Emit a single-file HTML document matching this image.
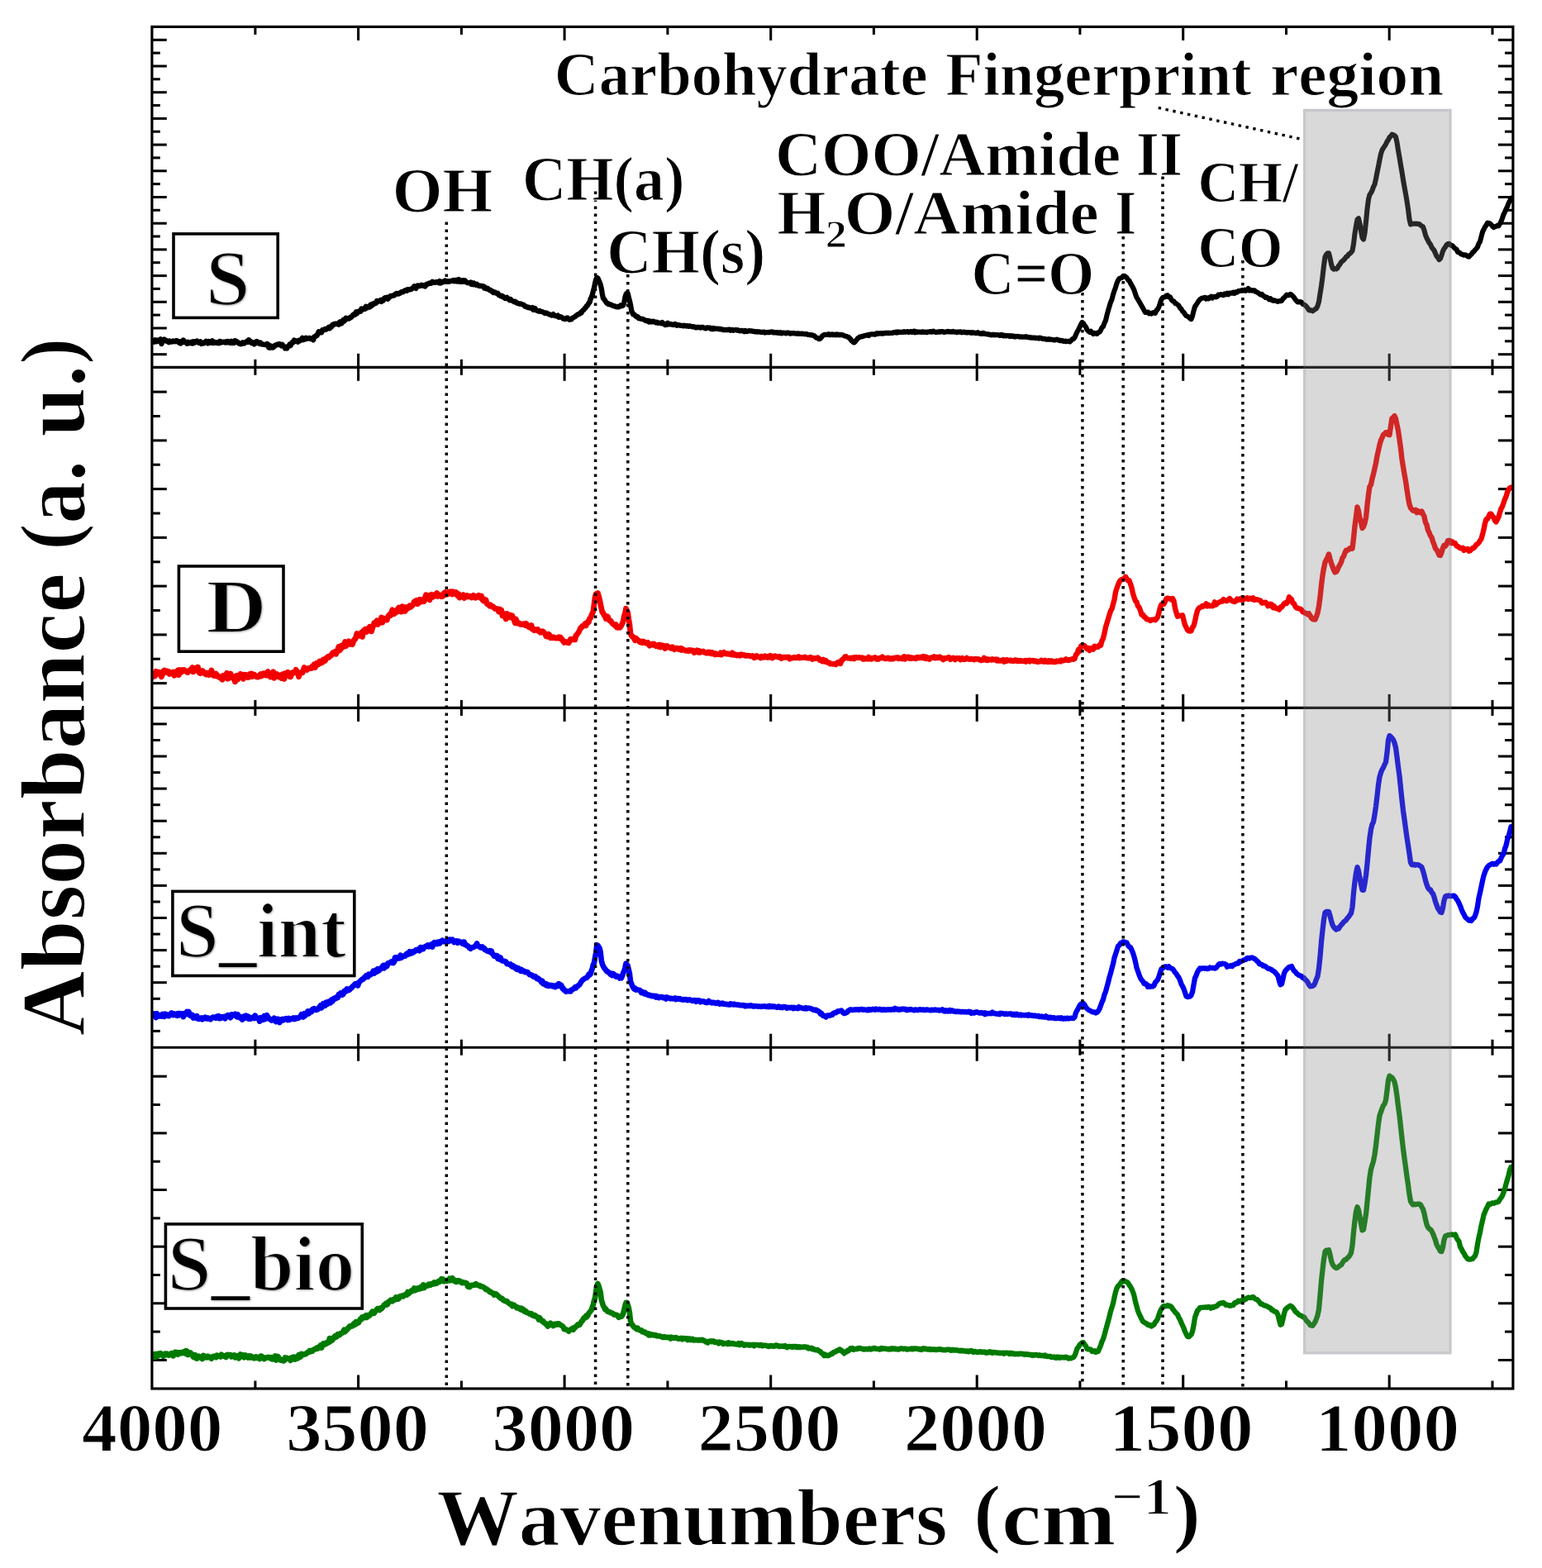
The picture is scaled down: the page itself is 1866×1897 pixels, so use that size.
<!DOCTYPE html>
<html lang="en"><head><meta charset="utf-8"><title>FTIR spectra</title>
<style>html,body{margin:0;padding:0;background:#fff}body{width:1866px;height:1897px;overflow:hidden}svg{display:block}</style>
</head><body>
<svg width="1866" height="1897" viewBox="0 0 1866 1897" role="img" aria-label="FTIR absorbance spectra">
<rect x="0" y="0" width="1866" height="1897" fill="#fff"/>
<g stroke="#000" stroke-width="3.05" fill="none">
<line x1="308.9" y1="32.4" x2="308.9" y2="41.9"/>
<line x1="308.9" y1="434.8" x2="308.9" y2="453.8"/>
<line x1="308.9" y1="846.9" x2="308.9" y2="865.9"/>
<line x1="308.9" y1="1257.7" x2="308.9" y2="1276.7"/>
<line x1="308.9" y1="1670.5" x2="308.9" y2="1680.0"/>
<line x1="433.6" y1="32.4" x2="433.6" y2="48.9"/>
<line x1="433.6" y1="427.8" x2="433.6" y2="460.8"/>
<line x1="433.6" y1="839.9" x2="433.6" y2="872.9"/>
<line x1="433.6" y1="1250.7" x2="433.6" y2="1283.7"/>
<line x1="433.6" y1="1663.5" x2="433.6" y2="1680.0"/>
<line x1="558.4" y1="32.4" x2="558.4" y2="41.9"/>
<line x1="558.4" y1="434.8" x2="558.4" y2="453.8"/>
<line x1="558.4" y1="846.9" x2="558.4" y2="865.9"/>
<line x1="558.4" y1="1257.7" x2="558.4" y2="1276.7"/>
<line x1="558.4" y1="1670.5" x2="558.4" y2="1680.0"/>
<line x1="683.1" y1="32.4" x2="683.1" y2="48.9"/>
<line x1="683.1" y1="427.8" x2="683.1" y2="460.8"/>
<line x1="683.1" y1="839.9" x2="683.1" y2="872.9"/>
<line x1="683.1" y1="1250.7" x2="683.1" y2="1283.7"/>
<line x1="683.1" y1="1663.5" x2="683.1" y2="1680.0"/>
<line x1="807.9" y1="32.4" x2="807.9" y2="41.9"/>
<line x1="807.9" y1="434.8" x2="807.9" y2="453.8"/>
<line x1="807.9" y1="846.9" x2="807.9" y2="865.9"/>
<line x1="807.9" y1="1257.7" x2="807.9" y2="1276.7"/>
<line x1="807.9" y1="1670.5" x2="807.9" y2="1680.0"/>
<line x1="932.7" y1="32.4" x2="932.7" y2="48.9"/>
<line x1="932.7" y1="427.8" x2="932.7" y2="460.8"/>
<line x1="932.7" y1="839.9" x2="932.7" y2="872.9"/>
<line x1="932.7" y1="1250.7" x2="932.7" y2="1283.7"/>
<line x1="932.7" y1="1663.5" x2="932.7" y2="1680.0"/>
<line x1="1057.4" y1="32.4" x2="1057.4" y2="41.9"/>
<line x1="1057.4" y1="434.8" x2="1057.4" y2="453.8"/>
<line x1="1057.4" y1="846.9" x2="1057.4" y2="865.9"/>
<line x1="1057.4" y1="1257.7" x2="1057.4" y2="1276.7"/>
<line x1="1057.4" y1="1670.5" x2="1057.4" y2="1680.0"/>
<line x1="1182.2" y1="32.4" x2="1182.2" y2="48.9"/>
<line x1="1182.2" y1="427.8" x2="1182.2" y2="460.8"/>
<line x1="1182.2" y1="839.9" x2="1182.2" y2="872.9"/>
<line x1="1182.2" y1="1250.7" x2="1182.2" y2="1283.7"/>
<line x1="1182.2" y1="1663.5" x2="1182.2" y2="1680.0"/>
<line x1="1306.9" y1="32.4" x2="1306.9" y2="41.9"/>
<line x1="1306.9" y1="434.8" x2="1306.9" y2="453.8"/>
<line x1="1306.9" y1="846.9" x2="1306.9" y2="865.9"/>
<line x1="1306.9" y1="1257.7" x2="1306.9" y2="1276.7"/>
<line x1="1306.9" y1="1670.5" x2="1306.9" y2="1680.0"/>
<line x1="1431.7" y1="32.4" x2="1431.7" y2="48.9"/>
<line x1="1431.7" y1="427.8" x2="1431.7" y2="460.8"/>
<line x1="1431.7" y1="839.9" x2="1431.7" y2="872.9"/>
<line x1="1431.7" y1="1250.7" x2="1431.7" y2="1283.7"/>
<line x1="1431.7" y1="1663.5" x2="1431.7" y2="1680.0"/>
<line x1="1556.5" y1="32.4" x2="1556.5" y2="41.9"/>
<line x1="1556.5" y1="434.8" x2="1556.5" y2="453.8"/>
<line x1="1556.5" y1="846.9" x2="1556.5" y2="865.9"/>
<line x1="1556.5" y1="1257.7" x2="1556.5" y2="1276.7"/>
<line x1="1556.5" y1="1670.5" x2="1556.5" y2="1680.0"/>
<line x1="1681.2" y1="32.4" x2="1681.2" y2="48.9"/>
<line x1="1681.2" y1="427.8" x2="1681.2" y2="460.8"/>
<line x1="1681.2" y1="839.9" x2="1681.2" y2="872.9"/>
<line x1="1681.2" y1="1250.7" x2="1681.2" y2="1283.7"/>
<line x1="1681.2" y1="1663.5" x2="1681.2" y2="1680.0"/>
<line x1="1806.0" y1="32.4" x2="1806.0" y2="41.9"/>
<line x1="1806.0" y1="434.8" x2="1806.0" y2="453.8"/>
<line x1="1806.0" y1="846.9" x2="1806.0" y2="865.9"/>
<line x1="1806.0" y1="1257.7" x2="1806.0" y2="1276.7"/>
<line x1="1806.0" y1="1670.5" x2="1806.0" y2="1680.0"/>
<line x1="183.9" y1="48.3" x2="201.8" y2="48.3"/>
<line x1="1830.9" y1="48.3" x2="1813.0" y2="48.3"/>
<line x1="183.9" y1="80.0" x2="201.8" y2="80.0"/>
<line x1="1830.9" y1="80.0" x2="1813.0" y2="80.0"/>
<line x1="183.9" y1="111.7" x2="201.8" y2="111.7"/>
<line x1="1830.9" y1="111.7" x2="1813.0" y2="111.7"/>
<line x1="183.9" y1="143.4" x2="201.8" y2="143.4"/>
<line x1="1830.9" y1="143.4" x2="1813.0" y2="143.4"/>
<line x1="183.9" y1="175.1" x2="201.8" y2="175.1"/>
<line x1="1830.9" y1="175.1" x2="1813.0" y2="175.1"/>
<line x1="183.9" y1="206.8" x2="201.8" y2="206.8"/>
<line x1="1830.9" y1="206.8" x2="1813.0" y2="206.8"/>
<line x1="183.9" y1="238.5" x2="201.8" y2="238.5"/>
<line x1="1830.9" y1="238.5" x2="1813.0" y2="238.5"/>
<line x1="183.9" y1="270.2" x2="201.8" y2="270.2"/>
<line x1="1830.9" y1="270.2" x2="1813.0" y2="270.2"/>
<line x1="183.9" y1="301.9" x2="201.8" y2="301.9"/>
<line x1="1830.9" y1="301.9" x2="1813.0" y2="301.9"/>
<line x1="183.9" y1="333.6" x2="201.8" y2="333.6"/>
<line x1="1830.9" y1="333.6" x2="1813.0" y2="333.6"/>
<line x1="183.9" y1="365.3" x2="201.8" y2="365.3"/>
<line x1="1830.9" y1="365.3" x2="1813.0" y2="365.3"/>
<line x1="183.9" y1="397.0" x2="201.8" y2="397.0"/>
<line x1="1830.9" y1="397.0" x2="1813.0" y2="397.0"/>
<line x1="183.9" y1="428.7" x2="201.8" y2="428.7"/>
<line x1="1830.9" y1="428.7" x2="1813.0" y2="428.7"/>
<line x1="183.9" y1="64.1" x2="193.8" y2="64.1"/>
<line x1="1830.9" y1="64.1" x2="1821.0" y2="64.1"/>
<line x1="183.9" y1="95.8" x2="193.8" y2="95.8"/>
<line x1="1830.9" y1="95.8" x2="1821.0" y2="95.8"/>
<line x1="183.9" y1="127.5" x2="193.8" y2="127.5"/>
<line x1="1830.9" y1="127.5" x2="1821.0" y2="127.5"/>
<line x1="183.9" y1="159.2" x2="193.8" y2="159.2"/>
<line x1="1830.9" y1="159.2" x2="1821.0" y2="159.2"/>
<line x1="183.9" y1="190.9" x2="193.8" y2="190.9"/>
<line x1="1830.9" y1="190.9" x2="1821.0" y2="190.9"/>
<line x1="183.9" y1="222.6" x2="193.8" y2="222.6"/>
<line x1="1830.9" y1="222.6" x2="1821.0" y2="222.6"/>
<line x1="183.9" y1="254.3" x2="193.8" y2="254.3"/>
<line x1="1830.9" y1="254.3" x2="1821.0" y2="254.3"/>
<line x1="183.9" y1="286.0" x2="193.8" y2="286.0"/>
<line x1="1830.9" y1="286.0" x2="1821.0" y2="286.0"/>
<line x1="183.9" y1="317.7" x2="193.8" y2="317.7"/>
<line x1="1830.9" y1="317.7" x2="1821.0" y2="317.7"/>
<line x1="183.9" y1="349.4" x2="193.8" y2="349.4"/>
<line x1="1830.9" y1="349.4" x2="1821.0" y2="349.4"/>
<line x1="183.9" y1="381.1" x2="193.8" y2="381.1"/>
<line x1="1830.9" y1="381.1" x2="1821.0" y2="381.1"/>
<line x1="183.9" y1="412.8" x2="193.8" y2="412.8"/>
<line x1="1830.9" y1="412.8" x2="1821.0" y2="412.8"/>
<line x1="183.9" y1="474.1" x2="201.8" y2="474.1"/>
<line x1="1830.9" y1="474.1" x2="1813.0" y2="474.1"/>
<line x1="183.9" y1="532.9" x2="201.8" y2="532.9"/>
<line x1="1830.9" y1="532.9" x2="1813.0" y2="532.9"/>
<line x1="183.9" y1="591.6" x2="201.8" y2="591.6"/>
<line x1="1830.9" y1="591.6" x2="1813.0" y2="591.6"/>
<line x1="183.9" y1="650.4" x2="201.8" y2="650.4"/>
<line x1="1830.9" y1="650.4" x2="1813.0" y2="650.4"/>
<line x1="183.9" y1="709.1" x2="201.8" y2="709.1"/>
<line x1="1830.9" y1="709.1" x2="1813.0" y2="709.1"/>
<line x1="183.9" y1="767.9" x2="201.8" y2="767.9"/>
<line x1="1830.9" y1="767.9" x2="1813.0" y2="767.9"/>
<line x1="183.9" y1="826.6" x2="201.8" y2="826.6"/>
<line x1="1830.9" y1="826.6" x2="1813.0" y2="826.6"/>
<line x1="183.9" y1="503.5" x2="193.8" y2="503.5"/>
<line x1="1830.9" y1="503.5" x2="1821.0" y2="503.5"/>
<line x1="183.9" y1="562.2" x2="193.8" y2="562.2"/>
<line x1="1830.9" y1="562.2" x2="1821.0" y2="562.2"/>
<line x1="183.9" y1="621.0" x2="193.8" y2="621.0"/>
<line x1="1830.9" y1="621.0" x2="1821.0" y2="621.0"/>
<line x1="183.9" y1="679.8" x2="193.8" y2="679.8"/>
<line x1="1830.9" y1="679.8" x2="1821.0" y2="679.8"/>
<line x1="183.9" y1="738.5" x2="193.8" y2="738.5"/>
<line x1="1830.9" y1="738.5" x2="1821.0" y2="738.5"/>
<line x1="183.9" y1="797.2" x2="193.8" y2="797.2"/>
<line x1="1830.9" y1="797.2" x2="1821.0" y2="797.2"/>
<line x1="183.9" y1="875.9" x2="201.8" y2="875.9"/>
<line x1="1830.9" y1="875.9" x2="1813.0" y2="875.9"/>
<line x1="183.9" y1="915.0" x2="201.8" y2="915.0"/>
<line x1="1830.9" y1="915.0" x2="1813.0" y2="915.0"/>
<line x1="183.9" y1="954.1" x2="201.8" y2="954.1"/>
<line x1="1830.9" y1="954.1" x2="1813.0" y2="954.1"/>
<line x1="183.9" y1="993.2" x2="201.8" y2="993.2"/>
<line x1="1830.9" y1="993.2" x2="1813.0" y2="993.2"/>
<line x1="183.9" y1="1032.3" x2="201.8" y2="1032.3"/>
<line x1="1830.9" y1="1032.3" x2="1813.0" y2="1032.3"/>
<line x1="183.9" y1="1071.4" x2="201.8" y2="1071.4"/>
<line x1="1830.9" y1="1071.4" x2="1813.0" y2="1071.4"/>
<line x1="183.9" y1="1110.5" x2="201.8" y2="1110.5"/>
<line x1="1830.9" y1="1110.5" x2="1813.0" y2="1110.5"/>
<line x1="183.9" y1="1149.6" x2="201.8" y2="1149.6"/>
<line x1="1830.9" y1="1149.6" x2="1813.0" y2="1149.6"/>
<line x1="183.9" y1="1188.7" x2="201.8" y2="1188.7"/>
<line x1="1830.9" y1="1188.7" x2="1813.0" y2="1188.7"/>
<line x1="183.9" y1="1227.8" x2="201.8" y2="1227.8"/>
<line x1="1830.9" y1="1227.8" x2="1813.0" y2="1227.8"/>
<line x1="183.9" y1="895.5" x2="193.8" y2="895.5"/>
<line x1="1830.9" y1="895.5" x2="1821.0" y2="895.5"/>
<line x1="183.9" y1="934.6" x2="193.8" y2="934.6"/>
<line x1="1830.9" y1="934.6" x2="1821.0" y2="934.6"/>
<line x1="183.9" y1="973.7" x2="193.8" y2="973.7"/>
<line x1="1830.9" y1="973.7" x2="1821.0" y2="973.7"/>
<line x1="183.9" y1="1012.8" x2="193.8" y2="1012.8"/>
<line x1="1830.9" y1="1012.8" x2="1821.0" y2="1012.8"/>
<line x1="183.9" y1="1051.9" x2="193.8" y2="1051.9"/>
<line x1="1830.9" y1="1051.9" x2="1821.0" y2="1051.9"/>
<line x1="183.9" y1="1091.0" x2="193.8" y2="1091.0"/>
<line x1="1830.9" y1="1091.0" x2="1821.0" y2="1091.0"/>
<line x1="183.9" y1="1130.1" x2="193.8" y2="1130.1"/>
<line x1="1830.9" y1="1130.1" x2="1821.0" y2="1130.1"/>
<line x1="183.9" y1="1169.2" x2="193.8" y2="1169.2"/>
<line x1="1830.9" y1="1169.2" x2="1821.0" y2="1169.2"/>
<line x1="183.9" y1="1208.3" x2="193.8" y2="1208.3"/>
<line x1="1830.9" y1="1208.3" x2="1821.0" y2="1208.3"/>
<line x1="183.9" y1="1247.4" x2="193.8" y2="1247.4"/>
<line x1="1830.9" y1="1247.4" x2="1821.0" y2="1247.4"/>
<line x1="183.9" y1="1302.2" x2="201.8" y2="1302.2"/>
<line x1="1830.9" y1="1302.2" x2="1813.0" y2="1302.2"/>
<line x1="183.9" y1="1370.9" x2="201.8" y2="1370.9"/>
<line x1="1830.9" y1="1370.9" x2="1813.0" y2="1370.9"/>
<line x1="183.9" y1="1439.5" x2="201.8" y2="1439.5"/>
<line x1="1830.9" y1="1439.5" x2="1813.0" y2="1439.5"/>
<line x1="183.9" y1="1508.2" x2="201.8" y2="1508.2"/>
<line x1="1830.9" y1="1508.2" x2="1813.0" y2="1508.2"/>
<line x1="183.9" y1="1576.8" x2="201.8" y2="1576.8"/>
<line x1="1830.9" y1="1576.8" x2="1813.0" y2="1576.8"/>
<line x1="183.9" y1="1645.5" x2="201.8" y2="1645.5"/>
<line x1="1830.9" y1="1645.5" x2="1813.0" y2="1645.5"/>
<line x1="183.9" y1="1336.5" x2="193.8" y2="1336.5"/>
<line x1="1830.9" y1="1336.5" x2="1821.0" y2="1336.5"/>
<line x1="183.9" y1="1405.2" x2="193.8" y2="1405.2"/>
<line x1="1830.9" y1="1405.2" x2="1821.0" y2="1405.2"/>
<line x1="183.9" y1="1473.8" x2="193.8" y2="1473.8"/>
<line x1="1830.9" y1="1473.8" x2="1821.0" y2="1473.8"/>
<line x1="183.9" y1="1542.5" x2="193.8" y2="1542.5"/>
<line x1="1830.9" y1="1542.5" x2="1821.0" y2="1542.5"/>
<line x1="183.9" y1="1611.1" x2="193.8" y2="1611.1"/>
<line x1="1830.9" y1="1611.1" x2="1821.0" y2="1611.1"/>
</g>
<defs><filter id="sh" x="-20%" y="-20%" width="150%" height="150%"><feMorphology in="SourceGraphic" operator="erode" radius="0.75" result="e"/><feDropShadow in="e" dx="0.9" dy="0.9" stdDeviation="0.9" flood-color="#000" flood-opacity="0.4"/></filter></defs>
<defs><clipPath id="plot"><rect x="183.9" y="32.4" width="1647.0" height="1647.6"/></clipPath></defs>
<g clip-path="url(#plot)">
<g fill="none" stroke="#000000" stroke-linejoin="round" stroke-linecap="round">
<path d="M181.9,412.6 184.4,413.6 185.5,412.2 186.6,413.5 187.7,411.4 188.8,412.6 189.9,413.2 191.0,411.7 192.1,412.5 193.2,411.5 194.3,410.3 195.4,416.0 196.5,413.1 197.6,412.3 198.7,410.5 199.8,412.0 200.9,411.8 202.0,413.0 203.1,412.7 204.2,414.1 205.3,412.7 206.4,413.4 207.5,413.6 208.6,413.0 209.7,412.5 210.8,413.1 211.9,413.2 213.0,412.3 214.1,412.2 215.2,413.2 216.3,414.4 217.4,413.5 218.5,415.5 219.6,413.5 220.7,414.2 221.8,411.5 222.9,413.0 224.0,413.4 225.1,414.4 226.2,415.6 227.3,414.0 228.4,415.2 229.5,414.5 230.6,414.9 231.7,413.8 232.8,415.5 233.9,413.4 235.0,414.9 236.1,413.3 237.2,413.4 238.3,412.5 239.4,413.7 240.5,414.9 241.6,414.6 242.7,413.4 243.8,415.9 244.9,414.8 246.0,415.4 247.1,415.1 248.2,413.9 249.3,412.8 250.4,413.7 251.5,415.3 252.6,413.0 253.7,414.7 254.8,413.5 255.9,414.5 257.0,412.4 258.1,414.9 259.2,413.8 260.3,414.7 261.4,414.2 262.5,414.9 263.6,414.2 264.7,415.1 265.8,412.9 266.9,413.1 268.0,414.5 269.1,413.9 270.2,413.8 271.3,413.8 272.4,414.4 273.5,413.4 274.6,414.3 275.7,413.0 276.8,413.5 277.9,414.7 279.0,414.8 280.1,412.9 281.2,414.8 282.3,413.2 283.4,414.8 284.5,412.2 285.6,412.7 286.7,413.4 287.8,413.9 288.9,415.6 290.0,415.4 291.1,416.2 292.2,416.0 293.3,414.5 294.4,414.4 295.5,415.4 296.6,414.3 297.7,414.0 298.8,412.8 299.9,413.8 301.0,411.3 302.1,413.5 303.2,413.0 304.3,414.8 305.4,414.2 306.5,414.8 307.6,416.3 308.7,414.0 309.8,415.0 310.9,413.0 312.0,414.8 313.1,415.2 314.2,415.9 315.3,414.6 316.4,416.0 317.5,416.5 318.6,416.7 319.7,416.9 320.8,417.0 321.9,416.8 323.0,415.9 324.1,416.4 325.2,420.5 326.3,420.7 327.4,418.3 328.5,420.4 329.6,420.5 330.7,420.3 331.8,419.2 332.9,417.6 334.0,417.6 335.1,416.8 336.2,417.0 337.3,416.3 338.4,416.3 339.5,417.5 340.6,418.3 341.7,417.0 342.8,418.6 343.9,419.1 345.0,421.4 346.1,420.3 347.2,421.4 348.3,419.1 349.4,418.9 350.5,416.7 351.6,418.1 352.7,415.8 353.8,414.0 354.9,414.1 356.0,411.6 357.1,412.8 358.2,412.5 359.3,412.6 360.4,413.7 361.5,411.9 362.6,412.5 363.7,411.6 364.8,410.8 365.9,408.8 367.0,411.2 368.1,409.8 369.2,410.2 370.3,408.8 371.4,409.9 372.5,409.4 373.6,409.2 374.7,409.0 375.8,410.0 376.9,409.7 378.0,409.3 379.1,411.3 380.2,407.5 381.3,407.4 382.4,406.1 383.5,406.2 384.6,403.9 385.7,401.2 386.8,401.7 387.9,402.1 389.0,402.3 390.1,399.3 391.2,399.5 392.3,399.2 393.4,398.0 394.5,398.6 395.6,397.6 396.7,397.4 397.8,395.8 398.9,397.2 400.0,395.2 401.1,395.5 402.2,393.1 403.3,393.4 404.4,392.1 405.5,391.7 406.6,391.7 407.7,392.1 408.8,391.7 409.9,392.7 411.0,389.7 412.1,389.2 413.2,391.4 414.3,389.9 415.4,387.1 416.5,388.5 417.6,387.5 418.7,384.7 419.8,385.7 420.9,385.4 422.0,385.5 423.1,385.0 424.2,383.6 425.3,383.8 426.4,382.1 427.5,380.8 428.6,380.0 429.7,380.6 430.8,377.6 431.9,379.3 433.0,376.9 434.1,376.8 435.2,376.8 436.3,376.8 437.4,373.5 438.5,374.1 439.6,374.3 440.7,373.1 441.8,373.7 442.9,370.7 444.0,372.4 445.1,372.0 446.2,371.1 447.3,371.5 448.4,368.8 449.5,370.1 450.6,367.8 451.7,368.4 452.8,366.9 453.9,367.2 455.0,366.6 456.1,364.1 457.2,364.8 458.3,364.5 459.4,364.0 460.5,363.1 461.6,364.8 462.7,362.8 463.8,363.5 464.9,361.1 466.0,360.2 467.1,360.8 468.2,359.8 469.3,361.8 470.4,359.5 471.5,359.7 472.6,358.2 473.7,357.9 474.8,357.9 475.9,357.6 477.0,357.4 478.1,356.1 479.2,355.5 480.3,355.0 481.4,355.5 482.5,355.5 483.6,354.9 484.7,354.0 485.8,353.2 486.9,353.4 488.0,353.1 489.1,351.9 490.2,351.5 491.3,351.0 492.4,351.7 493.5,350.3 494.6,350.4 495.7,350.3 496.8,350.0 497.9,349.9 499.0,348.7 500.1,348.3 501.2,346.4 502.3,347.8 503.4,348.8 504.5,346.0 505.6,345.5 506.7,345.6 507.8,346.1 508.9,345.6 510.0,344.8 511.1,345.1 512.2,345.8 513.3,345.3 514.4,346.4 515.5,344.7 516.6,343.7 517.7,343.8 518.8,342.9 519.9,342.4 521.0,342.8 522.1,342.6 523.2,340.8 524.3,341.5 525.4,341.6 526.5,341.9 527.6,341.1 528.7,341.3 529.8,341.1 530.9,342.1 532.0,340.2 533.1,342.5 534.2,342.1 535.3,340.8 536.4,341.1 537.5,340.9 538.6,339.6 539.7,340.1 540.8,340.3 541.9,340.1 543.0,340.8 544.1,340.3 545.2,340.3 546.3,339.7 547.4,339.8 548.5,339.1 549.6,340.2 550.7,339.3 551.8,338.8 552.9,340.4 554.0,340.0 555.1,338.1 556.2,340.8 557.3,339.3 558.4,340.8 559.5,339.6 560.6,339.3" stroke-width="6.40"/>
<path d="M560.6,339.3 561.7,340.7 562.8,339.6 563.9,340.9 565.0,341.8 566.1,342.2 567.2,342.4 568.3,342.0 569.4,341.6 570.5,343.9 571.6,342.2 572.7,344.2 573.8,342.7 574.9,344.4 576.0,344.8 577.1,343.8 578.2,345.1 579.3,345.8 580.4,346.0 581.5,345.6 582.6,346.2 583.7,346.2 584.8,346.2 585.9,348.4 587.0,347.6 588.1,349.3 589.2,349.2 590.3,348.9 591.4,350.3 592.5,350.8 593.6,350.9 594.7,352.3 595.8,352.1 596.9,354.1 598.0,354.1 599.1,353.5 600.2,354.6 601.3,355.0 602.4,354.7 603.5,357.0 604.6,357.6 605.7,358.0 606.8,357.6 607.9,359.1 609.0,358.7 610.1,360.0 611.2,361.0 612.3,360.3 613.4,359.8 614.5,361.0 615.6,362.1 616.7,363.1 617.8,362.1 618.9,363.2 620.0,364.0 621.1,364.5 622.2,365.3 623.3,364.6 624.4,365.5 625.5,366.8 626.6,366.8 627.7,367.2 628.8,367.8 629.9,367.4 631.0,367.9 632.1,368.3 633.2,368.5 634.3,369.3 635.4,370.7 636.5,371.2 637.6,371.2 638.7,372.1 639.8,371.6 640.9,372.5 642.0,372.8 643.1,372.7 644.2,372.1 645.3,374.9 646.4,374.6 647.5,373.1 648.6,374.9 649.7,375.8 650.8,375.8 651.9,376.6 653.0,375.9 654.1,376.8 655.2,377.0 656.3,377.3 657.4,377.7 658.5,378.3 659.6,379.0 660.7,378.4 661.8,378.9 662.9,379.6 664.0,379.9 665.1,380.5 666.2,380.9 667.3,381.5 668.4,381.1 669.5,380.1 670.6,381.7 671.7,382.2 672.8,382.1 673.9,382.6 675.0,381.7 676.1,383.8 677.2,383.6 678.3,383.1 679.4,383.9 680.5,384.4 681.6,385.7 682.7,385.7 683.8,386.1 684.9,385.3 686.0,384.5 687.1,384.7 688.2,386.4 689.3,386.8 690.4,385.9 691.5,386.2 692.6,384.8 693.7,384.1 694.8,383.7 695.9,383.2 697.0,382.0 698.1,381.4 699.2,380.4 700.3,380.2 701.4,379.8 702.5,378.1 703.6,378.4 704.7,376.1 705.8,375.2 706.9,374.4 708.0,372.6 709.1,372.0 710.2,369.6 711.3,369.2 712.4,366.8 713.5,365.9 714.6,361.9 715.7,359.5 716.8,356.8 717.9,351.9 719.0,348.2 720.1,342.6 721.2,338.2 722.3,335.8 723.4,336.4 724.5,339.0 725.6,341.5 726.7,344.4 727.8,349.1 728.9,356.3 730.0,360.9 731.1,361.7 732.2,363.7 733.3,365.4 734.4,366.8 735.5,366.8 736.6,368.2 737.7,368.1 738.8,368.6 739.9,368.9 741.0,369.6 742.1,369.9 743.2,370.3 744.3,370.3 745.4,371.1 746.5,371.3 747.6,370.8 748.7,371.4 749.8,370.8 750.9,369.6 752.0,370.3 753.1,370.0 754.2,369.4 755.3,366.0 756.4,359.7 757.5,356.2 758.6,354.7 759.7,355.0 760.8,359.9 761.9,364.0 763.0,368.8 764.1,375.5 765.2,378.1 766.3,380.4 767.4,380.6 768.5,381.7 769.6,382.7 770.7,383.5 771.8,383.2 772.9,385.2 774.0,385.1 775.1,385.7 776.2,385.8 777.3,385.9 778.4,386.2 779.5,386.9 780.6,387.4 781.7,388.2 782.8,388.0 783.9,388.0 785.0,389.4 786.1,388.4 787.2,388.7 788.3,389.5 789.4,389.2 790.5,388.6 791.6,389.4 792.7,389.4 793.8,390.4 794.9,389.8 796.0,390.8 797.1,390.7 798.2,390.7 799.3,390.9 800.4,391.3 801.5,390.2 802.6,391.6 803.7,391.7 804.8,393.0 805.9,391.9 807.0,392.6 808.1,390.9 809.2,392.4 810.3,392.2 811.4,392.1 812.5,392.4 813.6,392.7 814.7,393.0 815.8,392.7 816.9,392.0 818.0,392.7 819.1,393.8 820.2,393.0 821.3,393.4 822.4,393.3 823.5,393.8 824.6,393.9 825.7,393.8 826.8,394.3 827.9,393.6 829.0,394.0 830.1,394.5 831.2,394.4 832.3,394.2 833.4,394.9 834.5,394.3 835.6,394.7 836.7,394.8 837.8,395.3 838.9,395.2 840.0,395.3 841.1,395.8 842.2,396.4 843.3,395.8 844.4,396.2 845.5,395.9 846.6,396.1 847.7,396.5 848.8,396.1 849.9,395.8 851.0,396.2 852.1,396.6 853.2,397.1 854.3,397.3 855.4,396.4 856.5,396.5 857.6,396.7 858.7,396.5 859.8,397.7 860.9,397.3 862.0,398.1 863.1,397.0 864.2,398.1 865.3,397.5 866.4,397.7 867.5,397.7 868.6,397.8 869.7,397.7 870.8,398.3 871.9,397.9 873.0,398.4 874.1,398.6 875.2,399.0 876.3,399.0 877.4,399.1 878.5,399.1 879.6,398.9 880.7,399.0 881.8,398.6 882.9,398.7 884.0,399.7 885.1,399.1 886.2,398.9 887.3,399.7 888.4,399.3 889.5,399.2 890.6,399.0 891.7,399.7 892.8,399.3 893.9,399.7 895.0,400.3 896.1,400.1 897.2,400.0 898.3,400.0 899.4,400.5 900.5,401.0 901.6,400.1" stroke-width="6.31"/>
<path d="M900.5,401.0 901.6,400.1 902.7,400.6 903.8,401.1 904.9,400.8 906.0,400.2 907.1,400.3 908.2,400.4 909.3,400.4 910.4,400.6 911.5,401.0 912.6,400.9 913.7,401.4 914.8,401.3 915.9,401.2 917.0,401.6 918.1,401.4 919.2,401.4 920.3,401.8 921.4,401.9 922.5,401.7 923.6,401.9 924.7,401.6 925.8,402.5 926.9,402.0 928.0,402.1 929.1,402.2 930.2,401.9 931.3,402.2 932.4,401.7 933.5,401.4 934.6,401.6 935.7,402.3 936.8,401.9 937.9,402.5 939.0,402.1 940.1,402.6 941.2,402.1 942.3,402.9 943.4,402.6 944.5,402.2 945.6,403.4 946.7,402.8 947.8,402.6 948.9,402.5 950.0,403.0 951.1,403.4 952.2,402.7 953.3,402.6 954.4,402.5 955.5,403.4 956.6,403.6 957.7,403.0 958.8,403.3 959.9,403.1 961.0,403.0 962.1,403.5 963.2,403.6 964.3,403.6 965.4,403.4 966.5,403.8 967.6,403.5 968.7,403.7 969.8,403.9 970.9,403.5 972.0,404.0 973.1,404.1 974.2,404.3 975.3,404.0 976.4,404.0 977.5,405.0 978.6,405.0 979.7,405.0 980.8,405.5 981.9,405.2 983.0,405.4 984.1,406.1 985.2,406.0 986.3,407.0 987.4,408.4 988.5,408.8 989.6,409.0 990.7,409.9 991.8,410.1 992.9,409.4 994.0,408.0 995.1,406.4 996.2,405.6 997.3,405.1 998.4,404.8 999.5,405.0 1000.6,404.9 1001.7,404.9 1002.8,404.1 1003.9,405.1 1005.0,405.2 1006.1,404.6 1007.2,404.4 1008.3,405.2 1009.4,404.9 1010.5,404.7 1011.6,405.3 1012.7,404.5 1013.8,405.2 1014.9,404.7 1016.0,405.4 1017.1,405.1 1018.2,404.9 1019.3,405.2 1020.4,405.6 1021.5,406.1 1022.6,406.5 1023.7,406.8 1024.8,407.0 1025.9,407.9 1027.0,407.9 1028.1,409.2 1029.2,410.3 1030.3,412.0 1031.4,412.8 1032.5,414.0 1033.6,414.4 1034.7,413.6 1035.8,412.0 1036.9,410.7 1038.0,409.3 1039.1,408.7 1040.2,407.7 1041.3,407.6 1042.4,407.2 1043.5,407.1 1044.6,406.6 1045.7,406.4 1046.8,406.0 1047.9,405.8 1049.0,405.6 1050.1,405.2 1051.2,406.0 1052.3,404.7 1053.4,404.5 1054.5,404.4 1055.6,404.3 1056.7,404.3 1057.8,404.6 1058.9,404.6 1060.0,404.1 1061.1,403.1 1062.2,403.9 1063.3,403.3 1064.4,403.5 1065.5,403.2 1066.6,403.6 1067.7,403.2 1068.8,403.6 1069.9,403.3 1071.0,402.9 1072.1,402.9 1073.2,403.1 1074.3,402.8 1075.4,403.1 1076.5,402.9 1077.6,403.0 1078.7,402.9 1079.8,402.8 1080.9,402.3 1082.0,402.1 1083.1,402.3 1084.2,401.6 1085.3,402.5 1086.4,401.5 1087.5,402.1 1088.6,401.7 1089.7,402.0 1090.8,401.8 1091.9,402.0 1093.0,401.7 1094.1,401.2 1095.2,401.8 1096.3,401.4 1097.4,401.3 1098.5,401.2 1099.6,402.0 1100.7,401.3 1101.8,401.6 1102.9,401.1 1104.0,401.8 1105.1,401.2 1106.2,400.7 1107.3,402.3 1108.4,401.2 1109.5,401.9 1110.6,401.7 1111.7,401.7 1112.8,401.5 1113.9,401.7 1115.0,401.9 1116.1,401.3 1117.2,401.4 1118.3,401.8 1119.4,401.8 1120.5,401.7 1121.6,402.1 1122.7,401.6 1123.8,401.5 1124.9,401.3 1126.0,401.2 1127.1,401.7 1128.2,401.7 1129.3,400.7 1130.4,401.2 1131.5,401.6 1132.6,402.0 1133.7,401.9 1134.8,401.5 1135.9,401.7 1137.0,401.2 1138.1,401.6 1139.2,401.0 1140.3,401.1 1141.4,401.4 1142.5,402.0 1143.6,401.6 1144.7,401.5 1145.8,401.3 1146.9,400.9 1148.0,401.5 1149.1,401.3 1150.2,401.6 1151.3,401.3 1152.4,401.6 1153.5,401.0 1154.6,401.5 1155.7,401.7 1156.8,401.7 1157.9,402.1 1159.0,401.7 1160.1,401.7 1161.2,401.7 1162.3,401.3 1163.4,402.3 1164.5,402.1 1165.6,401.8 1166.7,401.6 1167.8,402.1 1168.9,402.3 1170.0,402.2 1171.1,402.3 1172.2,402.2 1173.3,402.2 1174.4,402.6 1175.5,402.8 1176.6,402.1 1177.7,402.7 1178.8,402.5 1179.9,402.7 1181.0,403.2 1182.1,402.8 1183.2,402.2 1184.3,403.3 1185.4,403.5 1186.5,403.8 1187.6,403.2 1188.7,403.9 1189.8,402.8 1190.9,403.3 1192.0,403.9 1193.1,404.0 1194.2,404.3 1195.3,404.4 1196.4,404.3 1197.5,404.9 1198.6,404.9 1199.7,405.3 1200.8,404.8 1201.9,405.1 1203.0,404.9 1204.1,405.3 1205.2,405.1 1206.3,405.2 1207.4,405.0 1208.5,405.5 1209.6,405.8 1210.7,405.9 1211.8,404.8 1212.9,405.3 1214.0,406.4 1215.1,405.8 1216.2,405.9 1217.3,406.4 1218.4,406.2 1219.5,406.0 1220.6,406.3 1221.7,407.0 1222.8,406.1 1223.9,406.8 1225.0,406.4 1226.1,406.6 1227.2,407.4 1228.3,406.8 1229.4,407.3 1230.5,407.0 1231.6,406.8 1232.7,407.2 1233.8,407.6 1234.9,407.3 1236.0,407.7 1237.1,407.7 1238.2,407.6 1239.3,407.5 1240.4,407.7 1241.5,407.2 1242.6,407.8 1243.7,407.5 1244.8,408.2 1245.9,408.4 1247.0,408.1 1248.1,408.6 1249.2,408.6 1250.3,408.7 1251.4,408.6 1252.5,408.9 1253.6,409.1 1254.7,408.8 1255.8,408.8 1256.9,409.5 1258.0,408.7 1259.1,408.8 1260.2,409.2 1261.3,409.8 1262.4,409.8 1263.5,409.8 1264.6,409.9 1265.7,410.5 1266.8,410.7 1267.9,410.7 1269.0,410.2 1270.1,410.7 1271.2,410.5 1272.3,410.8 1273.4,410.8 1274.5,411.2 1275.6,411.4 1276.7,411.3 1277.8,410.9 1278.9,410.7 1280.0,411.2 1281.1,411.5 1282.2,412.1 1283.3,411.9 1284.4,412.1 1285.5,412.2 1286.6,412.7 1287.7,413.0 1288.8,412.8 1289.9,412.6 1290.0,413.2 1291.5,413.0 1293.0,412.9" stroke-width="6.22"/>
<path d="M1293.0,412.9 1294.5,413.5 1296.0,412.4 1297.5,410.3 1299.0,410.0 1300.5,408.2 1302.0,404.8 1303.5,401.4 1305.0,399.1 1306.5,395.8 1308.0,392.6 1309.5,390.0 1311.0,391.1 1312.5,393.7 1314.0,395.4 1315.5,399.0 1317.0,400.6 1318.5,401.8 1320.0,400.7 1321.5,402.7 1323.0,404.0 1324.5,402.9 1326.0,403.4 1327.5,404.0 1329.0,402.3 1330.5,401.9 1332.0,399.6 1333.5,396.3 1335.0,394.9 1336.5,390.8 1338.0,387.7 1339.5,381.2 1341.0,375.7 1342.5,370.6 1344.0,365.7 1345.5,362.2 1347.0,356.5 1348.5,351.7 1350.0,347.7 1351.5,342.6 1353.0,339.1 1354.5,336.9 1356.0,336.6 1357.5,335.9 1359.0,334.3 1360.5,333.7 1362.0,334.8 1363.5,336.0 1365.0,338.6 1366.5,339.6 1368.0,342.6 1369.5,345.1 1371.0,347.9 1372.5,351.1 1374.0,355.9 1375.5,359.9 1377.0,362.2 1378.5,364.8 1380.0,367.3 1381.5,370.2 1383.0,372.6 1384.5,375.4 1386.0,378.0 1387.5,377.7 1389.0,377.5 1390.5,379.4 1392.0,378.7 1393.5,379.6 1395.0,378.5 1396.5,378.0 1398.0,378.8 1399.5,375.4 1401.0,374.0 1402.5,371.1 1404.0,366.4 1405.5,362.2 1407.0,360.1 1408.5,359.6 1410.0,359.3 1411.5,357.7 1413.0,357.3 1414.5,359.3 1416.0,359.2 1417.5,362.5 1419.0,364.1 1420.5,364.5 1422.0,366.9 1423.5,367.2 1425.0,368.5 1426.5,369.8 1428.0,372.7 1429.5,373.8 1431.0,376.7 1432.5,377.7 1434.0,380.2 1435.5,382.1 1437.0,382.8 1438.5,383.6 1440.0,385.1 1441.5,386.1 1443.0,382.3 1444.5,376.1 1446.0,370.9 1447.5,368.9 1449.0,366.5 1450.5,364.2 1452.0,362.3 1453.5,361.3 1455.0,360.6 1456.5,360.5 1458.0,359.8 1459.5,361.7 1461.0,360.4 1462.5,361.4 1464.0,359.8 1465.5,358.8 1467.0,360.6 1468.5,358.9 1470.0,358.7 1471.5,359.4 1473.0,358.8 1474.5,356.5 1476.0,357.0 1477.5,356.1 1479.0,356.8 1480.5,357.2 1482.0,355.5 1483.5,356.3 1485.0,354.8 1486.5,356.3 1488.0,354.5 1489.5,354.5 1491.0,354.7 1492.5,353.6 1494.0,355.0 1495.5,353.3 1497.0,353.7 1498.5,352.1 1500.0,352.2 1501.5,351.6 1503.0,351.1 1504.5,351.4 1506.0,350.6 1507.5,351.9 1509.0,350.7 1510.5,348.9 1512.0,351.5 1513.5,350.8 1515.0,351.7 1516.5,351.3 1518.0,351.2 1519.5,353.0 1521.0,353.2 1522.5,354.6 1524.0,355.3 1525.5,356.5 1527.0,355.9 1528.5,357.7 1530.0,358.5 1531.5,360.0 1533.0,359.5 1534.5,360.8 1536.0,362.4 1537.5,361.3 1539.0,363.0 1540.5,363.8 1542.0,363.2 1543.5,363.9 1545.0,364.3 1546.5,364.9 1548.0,364.1 1549.5,364.3 1551.0,363.8 1552.5,361.4 1554.0,360.2 1555.5,358.4 1557.0,356.7 1558.5,357.2 1560.0,357.2 1561.5,355.8 1563.0,356.9 1564.5,358.2 1566.0,360.0 1567.5,362.3 1569.0,364.0 1570.5,365.4 1572.0,365.4 1573.5,365.1 1575.0,365.6 1576.5,367.9 1578.0,368.5 1579.5,369.4 1581.0,370.9 1582.5,372.7 1584.0,375.3 1585.5,375.6 1587.0,375.3 1588.5,376.3 1590.0,375.3 1591.5,374.0 1593.0,373.2 1594.5,370.1 1596.0,365.1 1597.5,355.3 1599.0,346.0 1600.5,334.6 1602.0,321.2 1603.5,310.7 1605.0,307.9 1606.5,306.4 1608.0,306.3 1609.5,312.1 1611.0,319.5 1612.5,324.4 1614.0,325.7 1615.5,325.0 1617.0,325.4 1618.5,324.4 1620.0,321.4 1621.5,319.7 1623.0,317.0 1624.5,315.9 1626.0,314.6 1627.5,312.9 1629.0,310.7 1630.5,310.2 1632.0,307.6 1633.5,306.8 1635.0,305.3 1636.5,303.5 1638.0,295.1 1639.5,282.6 1641.0,273.5 1642.5,265.5 1644.0,264.2 1645.5,270.4 1647.0,279.4 1648.5,287.7 1650.0,289.6 1651.5,282.2 1653.0,268.6 1654.5,252.8 1656.0,241.3 1657.5,235.5 1659.0,233.4 1660.5,230.4 1662.0,226.1 1663.5,223.1 1665.0,216.5 1666.5,208.6 1668.0,201.3 1669.5,193.6 1671.0,186.1 1672.5,181.6 1674.0,179.1 1675.5,176.9 1677.0,174.5 1678.5,171.2 1680.0,169.3 1681.5,166.1 1683.0,164.8 1684.5,162.7 1686.0,163.2 1687.5,164.0 1689.0,165.5 1690.5,172.1 1692.0,181.8 1693.5,190.3 1695.0,199.5 1696.5,208.1 1698.0,217.5 1699.5,226.3 1701.0,234.3 1702.5,243.1 1704.0,252.9 1705.5,265.1 1707.0,271.5 1708.5,270.7 1710.0,270.7 1711.5,270.6 1713.0,270.7 1714.5,270.6 1716.0,271.0 1717.5,271.0 1719.0,272.4 1720.5,273.5 1722.0,274.2 1723.5,278.7 1725.0,284.3 1726.5,288.0 1728.0,290.8 1729.5,293.8 1731.0,295.6 1732.5,299.2 1734.0,301.2 1735.5,302.8 1737.0,306.5 1738.5,309.9 1740.0,311.7 1741.5,314.1 1743.0,312.8 1744.5,309.0 1746.0,303.9 1747.5,300.8 1749.0,298.9 1750.5,296.2 1752.0,295.1 1753.5,294.8 1755.0,296.2 1756.5,297.0 1758.0,297.5 1759.5,299.5 1761.0,300.8 1762.5,301.7 1764.0,304.8 1765.5,305.4 1767.0,306.4 1768.5,307.7 1770.0,307.7 1771.5,308.7 1773.0,308.2 1774.5,309.0 1776.0,310.2 1777.5,310.6 1779.0,309.0 1780.5,307.7 1782.0,305.5 1783.5,304.3 1785.0,302.3 1786.5,300.8 1788.0,298.9 1789.5,294.6 1791.0,292.3 1792.5,286.4 1794.0,280.7 1795.5,277.7 1797.0,274.5 1798.5,272.6 1800.0,269.6 1801.5,270.0 1803.0,270.5 1804.5,271.6 1806.0,273.8 1807.5,275.1 1809.0,274.2 1810.5,273.8 1812.0,272.9 1813.5,273.3 1815.0,270.8 1816.5,268.0 1818.0,264.0 1819.5,259.5 1821.0,256.6 1822.5,253.2 1824.0,249.9 1825.5,246.0 1827.0,243.0 1828.5,239.8 1832.9,238.8" stroke-width="6.10"/>
</g>
<g fill="none" stroke="#f20000" stroke-linejoin="round" stroke-linecap="round">
<path d="M181.9,815.3 184.4,819.1 185.5,815.7 186.6,815.3 187.7,817.9 188.8,812.3 189.9,815.3 191.0,815.4 192.1,813.1 193.2,813.9 194.3,814.1 195.4,818.8 196.5,816.1 197.6,812.1 198.7,811.2 199.8,813.3 200.9,813.4 202.0,811.8 203.1,813.8 204.2,812.7 205.3,815.4 206.4,814.5 207.5,813.8 208.6,814.7 209.7,813.2 210.8,817.2 211.9,815.4 213.0,812.8 214.1,813.0 215.2,811.1 216.3,816.6 217.4,810.6 218.5,813.0 219.6,813.2 220.7,810.7 221.8,811.7 222.9,810.6 224.0,811.8 225.1,812.0 226.2,813.2 227.3,813.6 228.4,811.7 229.5,811.2 230.6,810.4 231.7,809.2 232.8,807.7 233.9,812.7 235.0,811.7 236.1,811.3 237.2,808.3 238.3,808.7 239.4,807.1 240.5,812.4 241.6,814.4 242.7,814.6 243.8,813.7 244.9,811.6 246.0,813.5 247.1,813.4 248.2,815.3 249.3,815.9 250.4,814.2 251.5,814.9 252.6,816.6 253.7,816.2 254.8,815.0 255.9,811.1 257.0,814.1 258.1,817.1 259.2,815.8 260.3,817.6 261.4,815.2 262.5,816.5 263.6,818.6 264.7,819.0 265.8,818.7 266.9,820.3 268.0,821.0 269.1,822.2 270.2,817.3 271.3,819.7 272.4,818.5 273.5,816.8 274.6,814.4 275.7,821.2 276.8,817.6 277.9,820.0 279.0,815.1 280.1,819.0 281.2,819.8 282.3,818.7 283.4,822.0 284.5,824.8 285.6,817.9 286.7,817.3 287.8,821.8 288.9,818.8 290.0,817.2 291.1,815.4 292.2,819.5 293.3,818.5 294.4,821.2 295.5,816.2 296.6,817.1 297.7,816.5 298.8,816.8 299.9,819.6 301.0,819.4 302.1,815.4 303.2,815.5 304.3,815.0 305.4,818.5 306.5,817.6 307.6,816.1 308.7,817.4 309.8,817.9 310.9,819.1 312.0,819.1 313.1,818.6 314.2,817.1 315.3,815.6 316.4,817.9 317.5,816.1 318.6,815.0 319.7,816.5 320.8,816.4 321.9,817.0 323.0,813.8 324.1,812.7 325.2,817.3 326.3,814.8 327.4,819.1 328.5,814.9 329.6,815.5 330.7,812.7 331.8,820.3 332.9,815.4 334.0,816.3 335.1,815.6 336.2,816.4 337.3,818.8 338.4,817.6 339.5,817.7 340.6,820.4 341.7,815.7 342.8,821.0 343.9,821.3 345.0,814.8 346.1,817.5 347.2,814.8 348.3,813.5 349.4,816.1 350.5,818.6 351.6,818.8 352.7,815.8 353.8,813.8 354.9,813.7 356.0,813.4 357.1,813.8 358.2,810.4 359.3,814.4 360.4,814.5 361.5,818.7 362.6,815.4 363.7,813.5 364.8,813.7 365.9,813.9 367.0,811.6 368.1,807.6 369.2,809.1 370.3,809.4 371.4,810.4 372.5,809.0 373.6,808.2 374.7,808.7 375.8,808.5 376.9,808.6 378.0,806.1 379.1,806.7 380.2,803.9 381.3,807.5 382.4,805.6 383.5,802.3 384.6,803.9 385.7,803.5 386.8,800.0 387.9,802.3 389.0,800.1 390.1,801.4 391.2,798.1 392.3,799.6 393.4,799.3 394.5,796.1 395.6,796.0 396.7,794.7 397.8,795.4 398.9,793.6 400.0,793.5 401.1,792.6 402.2,790.4 403.3,789.5 404.4,788.9 405.5,788.4 406.6,791.2 407.7,788.5 408.8,785.7 409.9,782.5 411.0,787.0 412.1,785.3 413.2,781.0 414.3,783.4 415.4,780.7 416.5,779.7 417.6,776.6 418.7,781.7 419.8,779.2 420.9,777.8 422.0,776.0 423.1,776.7 424.2,779.3 425.3,777.3 426.4,779.6 427.5,776.6 428.6,773.8 429.7,773.5 430.8,770.9 431.9,766.6 433.0,767.2 434.1,769.3 435.2,767.0 436.3,767.7 437.4,765.4 438.5,770.4 439.6,763.3 440.7,762.5 441.8,761.4 442.9,764.5 444.0,764.3 445.1,760.6 446.2,762.0 447.3,758.4 448.4,759.5 449.5,763.8 450.6,759.9 451.7,757.2 452.8,753.9 453.9,755.0 455.0,752.8 456.1,750.8 457.2,755.4 458.3,753.6 459.4,751.1 460.5,751.9 461.6,747.1 462.7,753.2 463.8,747.9 464.9,749.7 466.0,748.9 467.1,749.2 468.2,750.1 469.3,746.4 470.4,744.8 471.5,743.3 472.6,744.6 473.7,740.7 474.8,737.9 475.9,740.4 477.0,742.6 478.1,741.1 479.2,738.8 480.3,740.2 481.4,736.7 482.5,735.1 483.6,739.5 484.7,736.9 485.8,740.1 486.9,733.8 488.0,737.6 489.1,734.6 490.2,739.4 491.3,734.6 492.4,734.6 493.5,736.0 494.6,734.8 495.7,732.9 496.8,734.5 497.9,733.1 499.0,732.6 500.1,730.9 501.2,728.1 502.3,727.4 503.4,729.3 504.5,726.2 505.6,730.6 506.7,727.3 507.8,725.5 508.9,728.3 510.0,725.9 511.1,727.6 512.2,725.3 513.3,727.5 514.4,723.3 515.5,719.9 516.6,720.8 517.7,720.3 518.8,723.9 519.9,725.7 521.0,721.8 522.1,719.4 523.2,722.5 524.3,721.7 525.4,719.9 526.5,720.9 527.6,719.9 528.7,717.6 529.8,721.4 530.9,720.2 532.0,720.2 533.1,720.0 534.2,721.7 535.3,721.5 536.4,720.6 537.5,717.4 538.6,716.7 539.7,719.3 540.8,718.8 541.9,718.9 543.0,716.2 544.1,716.1 545.2,715.7 546.3,718.6 547.4,718.9 548.5,715.9 549.6,718.0 550.7,718.3 551.8,716.6 552.9,718.7 554.0,720.8 555.1,718.7 556.2,723.1 557.3,721.1 558.4,721.5 559.5,721.3 560.6,720.0" stroke-width="6.90"/>
<path d="M560.6,720.0 561.7,723.5 562.8,722.4 563.9,720.9 565.0,720.5 566.1,722.0 567.2,721.6 568.3,721.2 569.4,722.1 570.5,723.0 571.6,721.8 572.7,720.3 573.8,722.7 574.9,721.3 576.0,723.2 577.1,722.4 578.2,720.9 579.3,720.3 580.4,721.3 581.5,723.2 582.6,721.1 583.7,725.5 584.8,726.8 585.9,724.9 587.0,725.2 588.1,726.0 589.2,730.3 590.3,731.4 591.4,731.6 592.5,733.2 593.6,731.8 594.7,733.1 595.8,734.3 596.9,733.9 598.0,735.4 599.1,736.5 600.2,736.5 601.3,736.3 602.4,737.0 603.5,740.0 604.6,737.0 605.7,739.3 606.8,738.2 607.9,744.8 609.0,742.4 610.1,745.7 611.2,743.1 612.3,749.0 613.4,742.4 614.5,745.6 615.6,743.9 616.7,747.1 617.8,744.1 618.9,745.5 620.0,745.1 621.1,748.3 622.2,750.2 623.3,753.8 624.4,749.0 625.5,754.0 626.6,754.0 627.7,753.5 628.8,754.4 629.9,755.5 631.0,755.2 632.1,755.4 633.2,754.7 634.3,755.3 635.4,756.4 636.5,754.2 637.6,755.4 638.7,757.2 639.8,758.6 640.9,759.1 642.0,758.7 643.1,756.6 644.2,761.1 645.3,762.0 646.4,762.7 647.5,761.6 648.6,762.4 649.7,761.6 650.8,761.5 651.9,763.8 653.0,763.6 654.1,765.3 655.2,765.1 656.3,763.6 657.4,764.1 658.5,765.4 659.6,766.7 660.7,769.7 661.8,767.6 662.9,770.3 664.0,767.1 665.1,768.4 666.2,771.8 667.3,770.4 668.4,770.6 669.5,771.8 670.6,771.0 671.7,771.6 672.8,772.1 673.9,772.0 675.0,772.1 676.1,770.9 677.2,772.3 678.3,771.1 679.4,773.3 680.5,773.5 681.6,776.1 682.7,777.4 683.8,776.7 684.9,776.5 686.0,777.1 687.1,777.7 688.2,777.9 689.3,775.4 690.4,773.2 691.5,773.6 692.6,773.1 693.7,773.9 694.8,773.8 695.9,773.9 697.0,768.5 698.1,768.0 699.2,766.1 700.3,764.8 701.4,762.4 702.5,759.7 703.6,759.4 704.7,757.2 705.8,757.0 706.9,757.0 708.0,754.6 709.1,757.0 710.2,753.4 711.3,751.9 712.4,752.6 713.5,748.4 714.6,747.6 715.7,744.4 716.8,742.0 717.9,739.7 719.0,731.0 720.1,722.2 721.2,718.6 722.3,718.4 723.4,717.6 724.5,721.0 725.6,725.3 726.7,730.6 727.8,736.4 728.9,740.9 730.0,741.6 731.1,744.4 732.2,745.4 733.3,748.5 734.4,745.6 735.5,746.1 736.6,749.2 737.7,750.9 738.8,750.8 739.9,752.6 741.0,754.2 742.1,755.2 743.2,755.7 744.3,756.9 745.4,755.7 746.5,759.2 747.6,759.3 748.7,758.7 749.8,759.3 750.9,758.6 752.0,756.4 753.1,754.3 754.2,751.3 755.3,745.2 756.4,742.3 757.5,736.2 758.6,739.3 759.7,741.0 760.8,749.4 761.9,755.3 763.0,766.6 764.1,768.9 765.2,770.3 766.3,770.7 767.4,772.5 768.5,774.7 769.6,772.1 770.7,774.2 771.8,774.3 772.9,774.9 774.0,776.6 775.1,777.0 776.2,776.1 777.3,777.6 778.4,776.0 779.5,776.5 780.6,777.6 781.7,778.2 782.8,777.9 783.9,777.3 785.0,779.4 786.1,781.1 787.2,779.5 788.3,780.0 789.4,779.0 790.5,780.1 791.6,779.1 792.7,780.0 793.8,781.8 794.9,781.3 796.0,780.6 797.1,782.4 798.2,780.1 799.3,783.1 800.4,782.1 801.5,780.7 802.6,781.6 803.7,781.4 804.8,784.6 805.9,783.1 807.0,781.5 808.1,781.8 809.2,783.2 810.3,783.1 811.4,784.2 812.5,784.4 813.6,782.7 814.7,784.6 815.8,785.6 816.9,784.4 818.0,784.9 819.1,784.1 820.2,784.4 821.3,785.5 822.4,784.7 823.5,784.2 824.6,786.4 825.7,785.1 826.8,786.2 827.9,786.3 829.0,786.9 830.1,787.2 831.2,787.4 832.3,786.7 833.4,787.6 834.5,786.5 835.6,787.2 836.7,786.6 837.8,787.4 838.9,787.1 840.0,789.6 841.1,789.0 842.2,787.9 843.3,786.8 844.4,787.6 845.5,789.3 846.6,787.6 847.7,789.2 848.8,788.5 849.9,788.6 851.0,787.9 852.1,788.9 853.2,789.6 854.3,789.9 855.4,790.2 856.5,789.1 857.6,790.0 858.7,789.0 859.8,789.4 860.9,790.7 862.0,789.7 863.1,791.0 864.2,790.5 865.3,791.9 866.4,790.7 867.5,791.2 868.6,791.7 869.7,791.6 870.8,791.8 871.9,789.9 873.0,792.0 874.1,790.0 875.2,790.7 876.3,789.3 877.4,790.9 878.5,790.7 879.6,791.1 880.7,790.7 881.8,791.4 882.9,791.2 884.0,791.4 885.1,792.0 886.2,789.8 887.3,792.0 888.4,792.6 889.5,791.7 890.6,792.1 891.7,793.1 892.8,792.5 893.9,792.1 895.0,793.3 896.1,793.0 897.2,791.7 898.3,792.3 899.4,792.5 900.5,792.6 901.6,793.0" stroke-width="6.75"/>
<path d="M900.5,792.6 901.6,793.0 902.7,793.1 903.8,793.4 904.9,793.1 906.0,793.3 907.1,793.2 908.2,794.0 909.3,793.6 910.4,793.4 911.5,794.5 912.6,795.8 913.7,794.0 914.8,794.9 915.9,793.5 917.0,794.2 918.1,794.9 919.2,795.2 920.3,796.0 921.4,794.2 922.5,794.6 923.6,795.4 924.7,795.3 925.8,793.8 926.9,794.5 928.0,795.2 929.1,795.5 930.2,794.1 931.3,795.1 932.4,793.3 933.5,795.5 934.6,796.1 935.7,794.1 936.8,794.8 937.9,793.7 939.0,794.1 940.1,794.6 941.2,795.0 942.3,795.2 943.4,794.2 944.5,794.6 945.6,796.6 946.7,795.5 947.8,795.0 948.9,795.4 950.0,794.9 951.1,795.5 952.2,795.0 953.3,795.3 954.4,794.9 955.5,797.2 956.6,796.3 957.7,796.0 958.8,796.2 959.9,795.7 961.0,795.1 962.1,796.0 963.2,796.0 964.3,795.8 965.4,795.1 966.5,794.4 967.6,796.1 968.7,795.9 969.8,795.6 970.9,795.5 972.0,795.5 973.1,795.2 974.2,794.8 975.3,795.9 976.4,795.7 977.5,796.2 978.6,795.7 979.7,796.2 980.8,795.3 981.9,796.6 983.0,797.6 984.1,796.1 985.2,796.5 986.3,796.7 987.4,796.4 988.5,796.5 989.6,795.6 990.7,796.5 991.8,798.5 992.9,797.9 994.0,798.4 995.1,800.1 996.2,798.0 997.3,800.4 998.4,800.5 999.5,799.2 1000.6,800.6 1001.7,801.8 1002.8,801.5 1003.9,802.0 1005.0,803.3 1006.1,803.1 1007.2,803.4 1008.3,803.2 1009.4,803.2 1010.5,803.1 1011.6,804.0 1012.7,802.4 1013.8,801.2 1014.9,801.5 1016.0,801.3 1017.1,802.9 1018.2,798.8 1019.3,798.8 1020.4,797.0 1021.5,796.8 1022.6,794.6 1023.7,794.4 1024.8,795.7 1025.9,796.3 1027.0,796.3 1028.1,796.4 1029.2,795.9 1030.3,796.6 1031.4,796.0 1032.5,795.6 1033.6,796.9 1034.7,795.4 1035.8,795.0 1036.9,795.6 1038.0,795.6 1039.1,795.5 1040.2,795.4 1041.3,796.0 1042.4,795.7 1043.5,795.6 1044.6,797.5 1045.7,796.5 1046.8,797.3 1047.9,796.7 1049.0,796.7 1050.1,797.2 1051.2,794.9 1052.3,797.2 1053.4,796.9 1054.5,797.4 1055.6,796.1 1056.7,796.1 1057.8,796.0 1058.9,795.4 1060.0,796.2 1061.1,797.5 1062.2,797.3 1063.3,797.4 1064.4,796.1 1065.5,796.0 1066.6,795.8 1067.7,794.8 1068.8,796.1 1069.9,795.8 1071.0,796.9 1072.1,796.9 1073.2,796.6 1074.3,795.7 1075.4,795.9 1076.5,797.3 1077.6,796.8 1078.7,797.3 1079.8,796.3 1080.9,797.1 1082.0,796.1 1083.1,795.8 1084.2,796.1 1085.3,795.5 1086.4,795.3 1087.5,797.0 1088.6,796.6 1089.7,796.0 1090.8,796.2 1091.9,797.0 1093.0,795.8 1094.1,794.5 1095.2,797.4 1096.3,795.0 1097.4,795.8 1098.5,794.8 1099.6,794.9 1100.7,796.5 1101.8,795.5 1102.9,796.6 1104.0,795.9 1105.1,795.8 1106.2,796.4 1107.3,796.6 1108.4,797.0 1109.5,795.0 1110.6,795.1 1111.7,795.9 1112.8,796.0 1113.9,795.1 1115.0,794.9 1116.1,795.9 1117.2,794.1 1118.3,794.8 1119.4,796.5 1120.5,794.8 1121.6,796.9 1122.7,795.7 1123.8,795.8 1124.9,797.5 1126.0,796.4 1127.1,795.6 1128.2,795.4 1129.3,795.3 1130.4,794.5 1131.5,796.2 1132.6,795.9 1133.7,795.2 1134.8,796.0 1135.9,795.2 1137.0,794.6 1138.1,795.2 1139.2,796.3 1140.3,797.0 1141.4,798.0 1142.5,796.3 1143.6,796.5 1144.7,796.6 1145.8,796.1 1146.9,795.7 1148.0,795.2 1149.1,796.0 1150.2,797.8 1151.3,796.6 1152.4,796.5 1153.5,795.9 1154.6,796.9 1155.7,798.0 1156.8,796.5 1157.9,796.2 1159.0,796.6 1160.1,796.3 1161.2,796.2 1162.3,798.0 1163.4,797.4 1164.5,796.3 1165.6,797.3 1166.7,797.9 1167.8,797.1 1168.9,797.5 1170.0,796.1 1171.1,797.0 1172.2,797.0 1173.3,797.7 1174.4,797.5 1175.5,797.0 1176.6,797.6 1177.7,797.8 1178.8,798.1 1179.9,797.0 1181.0,797.4 1182.1,797.5 1183.2,797.4 1184.3,797.5 1185.4,798.0 1186.5,798.8 1187.6,799.0 1188.7,798.6 1189.8,798.3 1190.9,796.0 1192.0,797.7 1193.1,798.5 1194.2,797.5 1195.3,798.8 1196.4,797.7 1197.5,798.2 1198.6,797.9 1199.7,798.4 1200.8,797.4 1201.9,798.3 1203.0,798.0 1204.1,798.0 1205.2,797.6 1206.3,799.3 1207.4,798.1 1208.5,799.4 1209.6,799.0 1210.7,799.4 1211.8,799.0 1212.9,798.9 1214.0,798.2 1215.1,800.6 1216.2,799.8 1217.3,799.9 1218.4,798.2 1219.5,799.1 1220.6,798.9 1221.7,799.2 1222.8,798.7 1223.9,799.6 1225.0,799.4 1226.1,799.7 1227.2,799.8 1228.3,798.6 1229.4,798.8 1230.5,798.7 1231.6,800.0 1232.7,799.6 1233.8,799.6 1234.9,799.0 1236.0,799.9 1237.1,799.6 1238.2,799.9 1239.3,799.7 1240.4,799.1 1241.5,800.4 1242.6,799.4 1243.7,799.5 1244.8,798.9 1245.9,800.2 1247.0,799.1 1248.1,799.5 1249.2,799.4 1250.3,799.1 1251.4,800.1 1252.5,799.5 1253.6,799.7 1254.7,800.6 1255.8,800.5 1256.9,800.6 1258.0,800.1 1259.1,800.3 1260.2,798.9 1261.3,799.3 1262.4,800.4 1263.5,800.6 1264.6,799.0 1265.7,800.3 1266.8,800.0 1267.9,800.8 1269.0,799.6 1270.1,800.6 1271.2,800.8 1272.3,799.4 1273.4,799.9 1274.5,800.9 1275.6,800.3 1276.7,801.0 1277.8,800.6 1278.9,799.7 1280.0,800.3 1281.1,800.2 1282.2,799.4 1283.3,800.2 1284.4,798.6 1285.5,799.3 1286.6,799.2 1287.7,798.9 1288.8,798.3 1289.9,797.5 1290.0,798.1 1291.5,798.7 1293.0,798.4" stroke-width="6.60"/>
<path d="M1293.0,798.4 1294.5,798.5 1296.0,797.9 1297.5,797.2 1299.0,797.8 1300.5,797.0 1302.0,791.9 1303.5,790.8 1305.0,785.9 1306.5,787.8 1308.0,781.9 1309.5,780.5 1311.0,781.2 1312.5,781.3 1314.0,783.3 1315.5,785.2 1317.0,784.1 1318.5,787.0 1320.0,784.1 1321.5,784.3 1323.0,785.5 1324.5,781.8 1326.0,783.0 1327.5,782.7 1329.0,782.7 1330.5,780.2 1332.0,780.8 1333.5,775.2 1335.0,772.3 1336.5,766.1 1338.0,758.8 1339.5,753.9 1341.0,748.9 1342.5,743.9 1344.0,739.2 1345.5,736.7 1347.0,730.9 1348.5,725.4 1350.0,716.4 1351.5,711.6 1353.0,707.7 1354.5,704.0 1356.0,701.9 1357.5,701.0 1359.0,701.0 1360.5,699.6 1362.0,697.8 1363.5,700.2 1365.0,702.5 1366.5,702.3 1368.0,706.5 1369.5,711.1 1371.0,718.1 1372.5,722.8 1374.0,726.9 1375.5,728.3 1377.0,733.3 1378.5,734.6 1380.0,738.5 1381.5,743.7 1383.0,743.4 1384.5,746.3 1386.0,747.0 1387.5,749.1 1389.0,749.3 1390.5,749.8 1392.0,750.9 1393.5,749.7 1395.0,749.7 1396.5,749.5 1398.0,750.2 1399.5,748.6 1401.0,746.4 1402.5,741.2 1404.0,734.6 1405.5,731.4 1407.0,730.3 1408.5,730.7 1410.0,727.4 1411.5,724.1 1413.0,723.7 1414.5,724.1 1416.0,724.1 1417.5,725.6 1419.0,724.2 1420.5,727.0 1422.0,735.8 1423.5,741.2 1425.0,745.7 1426.5,744.5 1428.0,745.0 1429.5,745.2 1431.0,744.3 1432.5,750.4 1434.0,756.1 1435.5,759.0 1437.0,762.3 1438.5,763.2 1440.0,763.6 1441.5,763.1 1443.0,759.2 1444.5,757.1 1446.0,751.7 1447.5,744.5 1449.0,738.6 1450.5,736.2 1452.0,734.8 1453.5,734.6 1455.0,733.0 1456.5,733.6 1458.0,732.3 1459.5,730.5 1461.0,733.3 1462.5,731.8 1464.0,733.2 1465.5,732.9 1467.0,733.2 1468.5,732.6 1470.0,728.4 1471.5,731.7 1473.0,729.8 1474.5,729.0 1476.0,728.3 1477.5,727.5 1479.0,727.6 1480.5,725.1 1482.0,726.5 1483.5,727.1 1485.0,727.0 1486.5,725.3 1488.0,724.2 1489.5,725.9 1491.0,727.2 1492.5,727.5 1494.0,728.1 1495.5,727.1 1497.0,724.7 1498.5,726.0 1500.0,724.6 1501.5,725.6 1503.0,723.5 1504.5,725.6 1506.0,724.0 1507.5,724.3 1509.0,723.4 1510.5,724.9 1512.0,723.7 1513.5,724.0 1515.0,724.9 1516.5,723.4 1518.0,725.9 1519.5,725.2 1521.0,725.2 1522.5,725.7 1524.0,726.2 1525.5,726.8 1527.0,729.6 1528.5,729.5 1530.0,729.1 1531.5,728.7 1533.0,730.3 1534.5,733.2 1536.0,732.5 1537.5,730.8 1539.0,731.3 1540.5,735.2 1542.0,733.5 1543.5,735.7 1545.0,736.2 1546.5,736.3 1548.0,737.5 1549.5,734.5 1551.0,734.5 1552.5,732.5 1554.0,730.2 1555.5,729.3 1557.0,730.0 1558.5,727.3 1560.0,722.4 1561.5,723.9 1563.0,725.3 1564.5,729.7 1566.0,730.3 1567.5,733.7 1569.0,735.6 1570.5,735.8 1572.0,736.3 1573.5,736.6 1575.0,737.8 1576.5,740.2 1578.0,740.8 1579.5,741.8 1581.0,741.9 1582.5,743.4 1584.0,742.3 1585.5,744.8 1587.0,747.8 1588.5,749.0 1590.0,749.3 1591.5,749.6 1593.0,745.9 1594.5,741.5 1596.0,733.3 1597.5,722.5 1599.0,708.1 1600.5,696.1 1602.0,687.4 1603.5,680.3 1605.0,677.2 1606.5,674.4 1608.0,670.5 1609.5,676.4 1611.0,681.3 1612.5,685.4 1614.0,689.6 1615.5,692.4 1617.0,691.7 1618.5,689.3 1620.0,685.6 1621.5,683.1 1623.0,680.3 1624.5,674.9 1626.0,673.0 1627.5,668.8 1629.0,665.7 1630.5,665.9 1632.0,664.9 1633.5,663.3 1635.0,663.8 1636.5,663.7 1638.0,651.3 1639.5,636.3 1641.0,625.1 1642.5,613.4 1644.0,618.2 1645.5,627.1 1647.0,631.7 1648.5,638.9 1650.0,637.2 1651.5,632.9 1653.0,626.1 1654.5,611.3 1656.0,598.5 1657.5,588.6 1659.0,586.5 1660.5,579.1 1662.0,573.6 1663.5,567.0 1665.0,560.4 1666.5,551.6 1668.0,545.1 1669.5,538.1 1671.0,532.9 1672.5,529.5 1674.0,526.1 1675.5,524.9 1677.0,523.3 1678.5,523.3 1680.0,525.9 1681.5,526.2 1683.0,515.5 1684.5,506.1 1686.0,505.3 1687.5,503.2 1689.0,506.8 1690.5,513.8 1692.0,520.9 1693.5,531.2 1695.0,542.1 1696.5,555.2 1698.0,564.6 1699.5,573.8 1701.0,581.9 1702.5,592.2 1704.0,601.7 1705.5,610.1 1707.0,614.3 1708.5,616.3 1710.0,617.8 1711.5,617.8 1713.0,616.9 1714.5,620.2 1716.0,618.2 1717.5,619.7 1719.0,620.3 1720.5,618.6 1722.0,622.0 1723.5,624.8 1725.0,632.0 1726.5,634.8 1728.0,641.4 1729.5,644.3 1731.0,648.1 1732.5,650.2 1734.0,655.2 1735.5,658.9 1737.0,663.6 1738.5,665.0 1740.0,668.0 1741.5,671.6 1743.0,672.0 1744.5,668.3 1746.0,663.1 1747.5,659.7 1749.0,660.7 1750.5,658.6 1752.0,654.2 1753.5,653.9 1755.0,654.3 1756.5,657.1 1758.0,655.7 1759.5,657.2 1761.0,657.3 1762.5,660.4 1764.0,661.0 1765.5,662.0 1767.0,663.2 1768.5,663.4 1770.0,662.8 1771.5,665.8 1773.0,664.2 1774.5,664.9 1776.0,664.1 1777.5,666.7 1779.0,666.2 1780.5,664.6 1782.0,663.2 1783.5,663.0 1785.0,661.3 1786.5,658.9 1788.0,658.2 1789.5,656.5 1791.0,654.1 1792.5,652.0 1794.0,646.7 1795.5,640.8 1797.0,633.2 1798.5,628.3 1800.0,627.7 1801.5,624.7 1803.0,621.7 1804.5,621.8 1806.0,624.6 1807.5,626.0 1809.0,629.9 1810.5,631.3 1812.0,628.4 1813.5,625.3 1815.0,620.2 1816.5,615.4 1818.0,612.8 1819.5,608.5 1821.0,604.0 1822.5,600.8 1824.0,595.6 1825.5,592.2 1827.0,590.4 1828.5,589.7 1832.9,589.1" stroke-width="6.40"/>
</g>
<g fill="none" stroke="#0000ee" stroke-linejoin="round" stroke-linecap="round">
<path d="M181.9,1230.0 184.4,1229.0 185.5,1227.9 186.6,1226.6 187.7,1227.4 188.8,1230.9 189.9,1226.3 191.0,1229.0 192.1,1229.6 193.2,1228.8 194.3,1228.2 195.4,1229.4 196.5,1227.1 197.6,1228.9 198.7,1229.7 199.8,1226.8 200.9,1227.1 202.0,1228.2 203.1,1229.0 204.2,1229.2 205.3,1228.2 206.4,1226.4 207.5,1225.6 208.6,1227.3 209.7,1227.9 210.8,1226.5 211.9,1227.8 213.0,1228.0 214.1,1228.7 215.2,1226.4 216.3,1228.3 217.4,1226.1 218.5,1226.5 219.6,1226.5 220.7,1228.1 221.8,1230.0 222.9,1226.3 224.0,1226.5 225.1,1227.0 226.2,1224.1 227.3,1226.4 228.4,1224.0 229.5,1228.0 230.6,1228.9 231.7,1229.1 232.8,1228.1 233.9,1231.4 235.0,1230.1 236.1,1230.6 237.2,1231.6 238.3,1229.2 239.4,1232.0 240.5,1232.9 241.6,1232.4 242.7,1232.5 243.8,1231.5 244.9,1233.2 246.0,1232.3 247.1,1231.8 248.2,1230.8 249.3,1232.2 250.4,1232.4 251.5,1231.4 252.6,1232.0 253.7,1232.7 254.8,1233.2 255.9,1231.8 257.0,1231.1 258.1,1230.6 259.2,1230.9 260.3,1231.3 261.4,1231.6 262.5,1229.9 263.6,1230.6 264.7,1229.4 265.8,1232.1 266.9,1230.3 268.0,1231.3 269.1,1230.2 270.2,1230.9 271.3,1230.2 272.4,1232.2 273.5,1229.9 274.6,1229.0 275.7,1228.2 276.8,1228.6 277.9,1229.9 279.0,1231.1 280.1,1227.4 281.2,1227.7 282.3,1228.2 283.4,1227.7 284.5,1226.8 285.6,1229.2 286.7,1230.2 287.8,1227.5 288.9,1229.7 290.0,1231.1 291.1,1231.7 292.2,1230.5 293.3,1233.5 294.4,1231.3 295.5,1229.5 296.6,1231.4 297.7,1228.8 298.8,1231.6 299.9,1229.6 301.0,1232.5 302.1,1230.8 303.2,1232.6 304.3,1232.0 305.4,1231.4 306.5,1230.6 307.6,1231.9 308.7,1228.8 309.8,1231.7 310.9,1231.7 312.0,1231.9 313.1,1232.2 314.2,1235.6 315.3,1231.3 316.4,1232.2 317.5,1231.7 318.6,1233.6 319.7,1229.1 320.8,1233.0 321.9,1229.8 323.0,1228.4 324.1,1230.3 325.2,1232.0 326.3,1232.9 327.4,1233.1 328.5,1234.5 329.6,1233.7 330.7,1233.9 331.8,1231.7 332.9,1235.1 334.0,1235.9 335.1,1234.3 336.2,1232.7 337.3,1233.3 338.4,1236.9 339.5,1234.3 340.6,1233.8 341.7,1233.0 342.8,1234.2 343.9,1232.9 345.0,1232.9 346.1,1232.3 347.2,1233.3 348.3,1233.9 349.4,1232.2 350.5,1233.6 351.6,1232.9 352.7,1232.6 353.8,1232.2 354.9,1231.5 356.0,1233.0 357.1,1232.7 358.2,1231.5 359.3,1232.0 360.4,1231.4 361.5,1231.5 362.6,1230.3 363.7,1229.8 364.8,1227.4 365.9,1229.5 367.0,1230.4 368.1,1226.3 369.2,1228.8 370.3,1226.5 371.4,1225.7 372.5,1223.5 373.6,1226.4 374.7,1223.5 375.8,1223.5 376.9,1224.0 378.0,1221.4 379.1,1220.7 380.2,1220.3 381.3,1221.3 382.4,1221.9 383.5,1221.4 384.6,1221.1 385.7,1219.3 386.8,1218.7 387.9,1216.5 389.0,1219.4 390.1,1217.1 391.2,1214.3 392.3,1214.5 393.4,1216.8 394.5,1212.8 395.6,1213.7 396.7,1214.4 397.8,1211.9 398.9,1213.5 400.0,1213.3 401.1,1209.8 402.2,1211.5 403.3,1208.5 404.4,1207.7 405.5,1208.4 406.6,1207.7 407.7,1206.0 408.8,1206.9 409.9,1203.1 411.0,1202.8 412.1,1201.7 413.2,1203.7 414.3,1203.6 415.4,1202.8 416.5,1199.2 417.6,1199.6 418.7,1199.3 419.8,1196.4 420.9,1196.9 422.0,1198.0 423.1,1197.3 424.2,1196.0 425.3,1195.2 426.4,1193.8 427.5,1192.8 428.6,1191.9 429.7,1190.5 430.8,1190.6 431.9,1189.9 433.0,1192.4 434.1,1189.0 435.2,1187.7 436.3,1186.5 437.4,1185.7 438.5,1184.6 439.6,1184.5 440.7,1182.7 441.8,1182.6 442.9,1180.5 444.0,1181.4 445.1,1181.7 446.2,1178.8 447.3,1179.7 448.4,1179.2 449.5,1177.9 450.6,1177.1 451.7,1174.9 452.8,1177.5 453.9,1174.4 455.0,1173.7 456.1,1175.5 457.2,1172.2 458.3,1174.5 459.4,1173.0 460.5,1172.5 461.6,1171.1 462.7,1169.4 463.8,1168.1 464.9,1171.3 466.0,1168.6 467.1,1167.5 468.2,1168.8 469.3,1165.5 470.4,1165.4 471.5,1164.8 472.6,1164.6 473.7,1163.4 474.8,1163.7 475.9,1164.9 477.0,1163.4 478.1,1158.3 479.2,1158.4 480.3,1159.8 481.4,1158.6 482.5,1158.0 483.6,1159.2 484.7,1155.8 485.8,1158.6 486.9,1157.1 488.0,1157.2 489.1,1156.5 490.2,1156.7 491.3,1154.8 492.4,1153.8 493.5,1154.6 494.6,1153.4 495.7,1151.3 496.8,1153.6 497.9,1153.0 499.0,1152.8 500.1,1151.2 501.2,1151.4 502.3,1150.4 503.4,1149.3 504.5,1149.9 505.6,1149.5 506.7,1148.0 507.8,1150.1 508.9,1146.1 510.0,1146.6 511.1,1146.4 512.2,1147.9 513.3,1145.9 514.4,1145.5 515.5,1144.7 516.6,1144.6 517.7,1143.5 518.8,1145.2 519.9,1144.1 521.0,1144.4 522.1,1142.5 523.2,1145.5 524.3,1141.7 525.4,1140.3 526.5,1141.7 527.6,1141.7 528.7,1142.0 529.8,1139.7 530.9,1140.7 532.0,1141.3 533.1,1138.8 534.2,1139.0 535.3,1137.8 536.4,1139.1 537.5,1139.1 538.6,1138.8 539.7,1138.9 540.8,1139.6 541.9,1138.2 543.0,1138.8 544.1,1136.7 545.2,1136.8 546.3,1137.7 547.4,1136.8 548.5,1138.7 549.6,1139.9 550.7,1139.2 551.8,1138.3 552.9,1138.5 554.0,1140.6 555.1,1138.7 556.2,1139.7 557.3,1139.7 558.4,1140.2 559.5,1141.4 560.6,1140.1" stroke-width="6.80"/>
<path d="M560.6,1140.1 561.7,1139.7 562.8,1143.1 563.9,1142.8 565.0,1144.1 566.1,1144.3 567.2,1145.8 568.3,1147.0 569.4,1147.8 570.5,1146.6 571.6,1146.2 572.7,1146.2 573.8,1145.3 574.9,1144.9 576.0,1143.2 577.1,1141.4 578.2,1144.3 579.3,1145.0 580.4,1145.3 581.5,1146.5 582.6,1146.1 583.7,1145.5 584.8,1147.4 585.9,1147.1 587.0,1149.3 588.1,1149.4 589.2,1150.4 590.3,1150.8 591.4,1151.2 592.5,1150.3 593.6,1152.2 594.7,1150.5 595.8,1153.7 596.9,1155.0 598.0,1156.7 599.1,1156.1 600.2,1156.0 601.3,1156.0 602.4,1159.9 603.5,1157.6 604.6,1160.5 605.7,1158.6 606.8,1161.5 607.9,1162.5 609.0,1162.6 610.1,1162.7 611.2,1162.9 612.3,1163.7 613.4,1166.1 614.5,1166.2 615.6,1166.2 616.7,1167.0 617.8,1166.5 618.9,1168.6 620.0,1169.5 621.1,1168.5 622.2,1169.9 623.3,1171.2 624.4,1170.2 625.5,1172.9 626.6,1172.8 627.7,1171.6 628.8,1173.4 629.9,1174.8 631.0,1173.1 632.1,1174.9 633.2,1174.4 634.3,1174.8 635.4,1176.2 636.5,1176.0 637.6,1175.8 638.7,1176.3 639.8,1178.0 640.9,1179.1 642.0,1179.2 643.1,1179.6 644.2,1180.1 645.3,1181.6 646.4,1181.5 647.5,1181.1 648.6,1182.2 649.7,1184.0 650.8,1183.3 651.9,1184.2 653.0,1185.6 654.1,1185.8 655.2,1188.4 656.3,1186.7 657.4,1190.3 658.5,1189.6 659.6,1189.9 660.7,1191.9 661.8,1190.8 662.9,1192.8 664.0,1193.0 665.1,1191.8 666.2,1191.8 667.3,1192.9 668.4,1192.2 669.5,1193.3 670.6,1193.6 671.7,1194.1 672.8,1192.1 673.9,1192.3 675.0,1193.0 676.1,1190.1 677.2,1192.2 678.3,1191.5 679.4,1192.3 680.5,1195.9 681.6,1195.6 682.7,1198.0 683.8,1198.1 684.9,1199.7 686.0,1199.3 687.1,1199.2 688.2,1199.3 689.3,1199.0 690.4,1199.4 691.5,1197.6 692.6,1197.5 693.7,1196.4 694.8,1196.1 695.9,1194.3 697.0,1195.3 698.1,1193.4 699.2,1193.1 700.3,1191.8 701.4,1191.1 702.5,1189.2 703.6,1187.3 704.7,1186.0 705.8,1185.0 706.9,1184.4 708.0,1183.4 709.1,1183.2 710.2,1182.7 711.3,1181.2 712.4,1178.8 713.5,1179.6 714.6,1178.3 715.7,1174.5 716.8,1171.7 717.9,1167.1 719.0,1164.9 720.1,1158.3 721.2,1152.5 722.3,1143.2 723.4,1143.9 724.5,1145.6 725.6,1147.3 726.7,1152.1 727.8,1161.9 728.9,1166.6 730.0,1168.9 731.1,1171.0 732.2,1172.3 733.3,1173.8 734.4,1175.4 735.5,1175.4 736.6,1176.7 737.7,1177.0 738.8,1178.9 739.9,1178.0 741.0,1180.1 742.1,1178.0 743.2,1179.7 744.3,1179.5 745.4,1181.6 746.5,1181.6 747.6,1181.0 748.7,1181.9 749.8,1183.4 750.9,1182.6 752.0,1183.2 753.1,1180.4 754.2,1177.0 755.3,1174.6 756.4,1171.2 757.5,1165.7 758.6,1167.0 759.7,1168.5 760.8,1173.3 761.9,1178.0 763.0,1187.4 764.1,1190.1 765.2,1192.9 766.3,1194.8 767.4,1196.4 768.5,1195.6 769.6,1197.5 770.7,1197.1 771.8,1197.5 772.9,1197.7 774.0,1197.8 775.1,1198.7 776.2,1201.0 777.3,1199.9 778.4,1200.9 779.5,1202.3 780.6,1200.9 781.7,1202.9 782.8,1202.7 783.9,1203.4 785.0,1204.2 786.1,1203.9 787.2,1204.2 788.3,1205.0 789.4,1205.2 790.5,1204.7 791.6,1205.2 792.7,1204.8 793.8,1206.5 794.9,1205.2 796.0,1206.2 797.1,1207.1 798.2,1206.6 799.3,1206.0 800.4,1206.0 801.5,1206.2 802.6,1207.2 803.7,1207.0 804.8,1206.8 805.9,1208.4 807.0,1206.5 808.1,1206.9 809.2,1207.3 810.3,1208.0 811.4,1208.2 812.5,1207.8 813.6,1208.2 814.7,1208.3 815.8,1208.2 816.9,1207.4 818.0,1209.0 819.1,1208.0 820.2,1208.1 821.3,1208.6 822.4,1208.2 823.5,1208.6 824.6,1209.3 825.7,1209.2 826.8,1209.6 827.9,1209.0 829.0,1209.4 830.1,1209.1 831.2,1209.6 832.3,1210.1 833.4,1209.8 834.5,1209.3 835.6,1210.0 836.7,1210.2 837.8,1210.8 838.9,1210.4 840.0,1210.3 841.1,1210.0 842.2,1211.7 843.3,1210.3 844.4,1210.4 845.5,1211.2 846.6,1210.7 847.7,1212.2 848.8,1211.6 849.9,1211.7 851.0,1211.3 852.1,1211.8 853.2,1212.6 854.3,1212.3 855.4,1213.0 856.5,1212.2 857.6,1211.1 858.7,1212.4 859.8,1212.4 860.9,1213.3 862.0,1212.9 863.1,1213.2 864.2,1212.8 865.3,1213.4 866.4,1214.0 867.5,1213.3 868.6,1212.8 869.7,1213.3 870.8,1214.6 871.9,1214.1 873.0,1213.9 874.1,1213.6 875.2,1214.7 876.3,1214.5 877.4,1214.6 878.5,1214.7 879.6,1215.2 880.7,1215.1 881.8,1215.4 882.9,1215.6 884.0,1214.3 885.1,1214.6 886.2,1215.3 887.3,1215.4 888.4,1214.7 889.5,1215.2 890.6,1215.4 891.7,1215.6 892.8,1215.5 893.9,1215.7 895.0,1216.1 896.1,1216.1 897.2,1216.2 898.3,1216.3 899.4,1216.1 900.5,1216.5 901.6,1217.1" stroke-width="6.65"/>
<path d="M900.5,1216.5 901.6,1217.1 902.7,1216.8 903.8,1217.0 904.9,1216.8 906.0,1216.8 907.1,1217.0 908.2,1216.2 909.3,1216.9 910.4,1216.8 911.5,1217.5 912.6,1217.0 913.7,1217.4 914.8,1217.1 915.9,1217.4 917.0,1217.7 918.1,1217.4 919.2,1217.7 920.3,1217.7 921.4,1217.9 922.5,1217.4 923.6,1217.6 924.7,1217.3 925.8,1217.3 926.9,1217.9 928.0,1218.1 929.1,1217.4 930.2,1218.1 931.3,1217.0 932.4,1217.9 933.5,1217.9 934.6,1217.2 935.7,1218.0 936.8,1217.5 937.9,1218.0 939.0,1218.3 940.1,1218.8 941.2,1218.5 942.3,1217.6 943.4,1218.2 944.5,1218.9 945.6,1218.4 946.7,1219.1 947.8,1218.1 948.9,1218.2 950.0,1218.1 951.1,1218.8 952.2,1219.7 953.3,1218.7 954.4,1219.3 955.5,1219.1 956.6,1219.2 957.7,1218.8 958.8,1219.0 959.9,1220.0 961.0,1218.8 962.1,1219.5 963.2,1219.8 964.3,1219.3 965.4,1220.0 966.5,1218.2 967.6,1219.4 968.7,1219.1 969.8,1219.4 970.9,1219.7 972.0,1220.1 973.1,1219.7 974.2,1220.3 975.3,1219.1 976.4,1220.2 977.5,1220.0 978.6,1219.6 979.7,1219.8 980.8,1219.9 981.9,1220.4 983.0,1221.1 984.1,1221.8 985.2,1221.9 986.3,1221.6 987.4,1221.8 988.5,1223.0 989.6,1222.8 990.7,1223.7 991.8,1224.2 992.9,1226.5 994.0,1225.9 995.1,1227.5 996.2,1228.9 997.3,1228.7 998.4,1229.1 999.5,1230.4 1000.6,1228.7 1001.7,1228.6 1002.8,1228.4 1003.9,1228.7 1005.0,1228.4 1006.1,1227.5 1007.2,1227.7 1008.3,1226.0 1009.4,1225.6 1010.5,1225.0 1011.6,1225.2 1012.7,1224.1 1013.8,1223.3 1014.9,1223.6 1016.0,1223.1 1017.1,1223.0 1018.2,1222.6 1019.3,1223.8 1020.4,1225.3 1021.5,1226.0 1022.6,1225.8 1023.7,1225.4 1024.8,1224.9 1025.9,1223.2 1027.0,1222.7 1028.1,1221.8 1029.2,1221.5 1030.3,1221.6 1031.4,1222.1 1032.5,1221.9 1033.6,1221.4 1034.7,1221.7 1035.8,1221.4 1036.9,1221.5 1038.0,1221.3 1039.1,1221.8 1040.2,1221.6 1041.3,1221.0 1042.4,1221.0 1043.5,1221.0 1044.6,1221.8 1045.7,1221.4 1046.8,1221.6 1047.9,1221.7 1049.0,1222.0 1050.1,1222.2 1051.2,1221.1 1052.3,1222.0 1053.4,1221.5 1054.5,1221.7 1055.6,1221.1 1056.7,1220.7 1057.8,1221.4 1058.9,1221.7 1060.0,1220.6 1061.1,1221.1 1062.2,1221.2 1063.3,1221.4 1064.4,1220.8 1065.5,1221.2 1066.6,1221.8 1067.7,1222.0 1068.8,1221.2 1069.9,1221.7 1071.0,1221.6 1072.1,1221.9 1073.2,1221.5 1074.3,1221.5 1075.4,1221.3 1076.5,1221.4 1077.6,1221.7 1078.7,1221.3 1079.8,1221.5 1080.9,1220.9 1082.0,1221.5 1083.1,1220.0 1084.2,1220.8 1085.3,1221.3 1086.4,1220.9 1087.5,1221.8 1088.6,1221.5 1089.7,1220.9 1090.8,1221.2 1091.9,1220.6 1093.0,1220.8 1094.1,1221.1 1095.2,1220.7 1096.3,1221.9 1097.4,1221.2 1098.5,1221.9 1099.6,1221.4 1100.7,1221.6 1101.8,1221.0 1102.9,1221.4 1104.0,1221.6 1105.1,1221.9 1106.2,1222.3 1107.3,1221.5 1108.4,1221.6 1109.5,1221.8 1110.6,1222.1 1111.7,1221.6 1112.8,1221.5 1113.9,1221.3 1115.0,1221.6 1116.1,1221.8 1117.2,1221.5 1118.3,1221.7 1119.4,1222.1 1120.5,1221.7 1121.6,1221.4 1122.7,1221.7 1123.8,1221.9 1124.9,1222.1 1126.0,1222.3 1127.1,1221.7 1128.2,1221.8 1129.3,1221.9 1130.4,1221.9 1131.5,1221.4 1132.6,1222.0 1133.7,1222.1 1134.8,1222.1 1135.9,1222.1 1137.0,1222.5 1138.1,1222.0 1139.2,1222.0 1140.3,1221.4 1141.4,1222.5 1142.5,1223.3 1143.6,1223.4 1144.7,1222.4 1145.8,1223.1 1146.9,1223.4 1148.0,1222.7 1149.1,1222.0 1150.2,1223.3 1151.3,1222.6 1152.4,1222.6 1153.5,1223.5 1154.6,1223.2 1155.7,1223.6 1156.8,1224.1 1157.9,1223.6 1159.0,1223.4 1160.1,1224.1 1161.2,1223.8 1162.3,1224.2 1163.4,1224.2 1164.5,1223.9 1165.6,1224.3 1166.7,1224.2 1167.8,1224.3 1168.9,1224.3 1170.0,1224.4 1171.1,1224.3 1172.2,1223.9 1173.3,1224.8 1174.4,1224.3 1175.5,1225.8 1176.6,1224.9 1177.7,1225.1 1178.8,1225.5 1179.9,1224.8 1181.0,1224.4 1182.1,1224.3 1183.2,1224.9 1184.3,1225.2 1185.4,1225.5 1186.5,1225.4 1187.6,1225.1 1188.7,1225.5 1189.8,1226.0 1190.9,1225.3 1192.0,1227.0 1193.1,1225.5 1194.2,1226.1 1195.3,1226.3 1196.4,1226.1 1197.5,1226.0 1198.6,1226.1 1199.7,1226.2 1200.8,1224.7 1201.9,1226.0 1203.0,1226.0 1204.1,1226.1 1205.2,1226.5 1206.3,1226.6 1207.4,1226.8 1208.5,1226.4 1209.6,1227.1 1210.7,1225.8 1211.8,1226.1 1212.9,1225.9 1214.0,1226.5 1215.1,1226.5 1216.2,1226.9 1217.3,1226.3 1218.4,1226.9 1219.5,1226.8 1220.6,1226.6 1221.7,1226.4 1222.8,1226.7 1223.9,1226.6 1225.0,1227.7 1226.1,1227.5 1227.2,1226.8 1228.3,1228.0 1229.4,1227.3 1230.5,1226.8 1231.6,1228.1 1232.7,1228.2 1233.8,1227.8 1234.9,1227.6 1236.0,1228.5 1237.1,1227.9 1238.2,1228.1 1239.3,1228.3 1240.4,1228.3 1241.5,1228.1 1242.6,1228.0 1243.7,1228.6 1244.8,1227.5 1245.9,1228.3 1247.0,1228.4 1248.1,1228.6 1249.2,1228.5 1250.3,1228.8 1251.4,1229.1 1252.5,1228.6 1253.6,1229.1 1254.7,1229.4 1255.8,1228.9 1256.9,1229.1 1258.0,1230.1 1259.1,1230.1 1260.2,1229.6 1261.3,1230.3 1262.4,1230.1 1263.5,1230.5 1264.6,1230.5 1265.7,1229.4 1266.8,1230.4 1267.9,1231.2 1269.0,1231.5 1270.1,1230.8 1271.2,1230.7 1272.3,1231.4 1273.4,1231.2 1274.5,1231.6 1275.6,1231.3 1276.7,1232.1 1277.8,1232.0 1278.9,1231.9 1280.0,1231.5 1281.1,1231.5 1282.2,1231.7 1283.3,1232.2 1284.4,1231.3 1285.5,1232.1 1286.6,1232.7 1287.7,1231.9 1288.8,1232.0 1289.9,1232.4 1290.0,1232.3 1291.5,1231.7 1293.0,1232.1" stroke-width="6.50"/>
<path d="M1293.0,1232.1 1294.5,1232.2 1296.0,1231.6 1297.5,1231.9 1299.0,1231.9 1300.5,1230.4 1302.0,1224.8 1303.5,1222.4 1305.0,1219.6 1306.5,1216.6 1308.0,1214.8 1309.5,1214.0 1311.0,1214.0 1312.5,1215.6 1314.0,1218.5 1315.5,1220.4 1317.0,1221.6 1318.5,1222.5 1320.0,1223.2 1321.5,1224.1 1323.0,1224.5 1324.5,1224.4 1326.0,1225.5 1327.5,1224.8 1329.0,1223.3 1330.5,1220.5 1332.0,1216.6 1333.5,1212.5 1335.0,1209.0 1336.5,1203.3 1338.0,1199.6 1339.5,1194.0 1341.0,1188.7 1342.5,1182.3 1344.0,1177.4 1345.5,1171.4 1347.0,1166.2 1348.5,1158.7 1350.0,1154.3 1351.5,1149.6 1353.0,1144.7 1354.5,1143.7 1356.0,1141.0 1357.5,1140.7 1359.0,1139.3 1360.5,1139.6 1362.0,1140.1 1363.5,1140.5 1365.0,1143.7 1366.5,1145.4 1368.0,1146.2 1369.5,1149.2 1371.0,1152.9 1372.5,1157.7 1374.0,1163.6 1375.5,1170.8 1377.0,1175.0 1378.5,1179.3 1380.0,1183.2 1381.5,1185.4 1383.0,1187.2 1384.5,1190.0 1386.0,1189.7 1387.5,1190.8 1389.0,1193.9 1390.5,1192.7 1392.0,1193.8 1393.5,1193.3 1395.0,1193.5 1396.5,1192.3 1398.0,1188.5 1399.5,1187.0 1401.0,1185.1 1402.5,1181.3 1404.0,1176.4 1405.5,1172.1 1407.0,1171.4 1408.5,1170.1 1410.0,1169.4 1411.5,1169.4 1413.0,1170.7 1414.5,1169.3 1416.0,1171.0 1417.5,1171.7 1419.0,1172.2 1420.5,1174.2 1422.0,1176.5 1423.5,1178.2 1425.0,1180.6 1426.5,1182.7 1428.0,1186.1 1429.5,1190.6 1431.0,1193.1 1432.5,1196.3 1434.0,1200.7 1435.5,1205.2 1437.0,1206.1 1438.5,1205.7 1440.0,1205.6 1441.5,1204.0 1443.0,1200.2 1444.5,1191.5 1446.0,1183.2 1447.5,1180.3 1449.0,1176.1 1450.5,1173.6 1452.0,1171.4 1453.5,1172.2 1455.0,1171.4 1456.5,1171.3 1458.0,1171.8 1459.5,1171.3 1461.0,1172.1 1462.5,1171.9 1464.0,1170.5 1465.5,1170.9 1467.0,1171.1 1468.5,1171.0 1470.0,1171.6 1471.5,1171.0 1473.0,1169.2 1474.5,1167.0 1476.0,1165.9 1477.5,1166.6 1479.0,1165.6 1480.5,1166.0 1482.0,1166.2 1483.5,1166.9 1485.0,1169.8 1486.5,1168.6 1488.0,1168.8 1489.5,1168.1 1491.0,1169.1 1492.5,1167.4 1494.0,1166.8 1495.5,1166.1 1497.0,1165.4 1498.5,1165.5 1500.0,1162.9 1501.5,1163.5 1503.0,1162.5 1504.5,1162.0 1506.0,1161.1 1507.5,1160.9 1509.0,1159.1 1510.5,1159.0 1512.0,1159.5 1513.5,1158.7 1515.0,1158.5 1516.5,1159.1 1518.0,1159.9 1519.5,1160.9 1521.0,1162.6 1522.5,1163.6 1524.0,1166.3 1525.5,1166.5 1527.0,1167.0 1528.5,1168.7 1530.0,1168.4 1531.5,1169.3 1533.0,1170.6 1534.5,1171.8 1536.0,1171.9 1537.5,1172.6 1539.0,1173.4 1540.5,1174.7 1542.0,1175.3 1543.5,1176.9 1545.0,1178.7 1546.5,1180.8 1548.0,1186.7 1549.5,1191.2 1551.0,1190.6 1552.5,1184.2 1554.0,1177.4 1555.5,1174.4 1557.0,1172.8 1558.5,1171.3 1560.0,1169.9 1561.5,1169.8 1563.0,1169.0 1564.5,1172.2 1566.0,1174.7 1567.5,1175.6 1569.0,1177.8 1570.5,1178.8 1572.0,1180.1 1573.5,1180.3 1575.0,1180.9 1576.5,1183.1 1578.0,1183.0 1579.5,1185.2 1581.0,1186.3 1582.5,1188.4 1584.0,1191.4 1585.5,1193.4 1587.0,1193.2 1588.5,1192.9 1590.0,1191.9 1591.5,1188.8 1593.0,1184.6 1594.5,1181.2 1596.0,1171.5 1597.5,1157.4 1599.0,1139.4 1600.5,1125.4 1602.0,1112.4 1603.5,1103.9 1605.0,1103.0 1606.5,1102.9 1608.0,1103.0 1609.5,1108.0 1611.0,1113.9 1612.5,1119.0 1614.0,1121.6 1615.5,1123.3 1617.0,1124.6 1618.5,1123.0 1620.0,1123.5 1621.5,1120.9 1623.0,1119.1 1624.5,1117.6 1626.0,1115.3 1627.5,1114.3 1629.0,1113.2 1630.5,1110.7 1632.0,1109.3 1633.5,1106.9 1635.0,1104.8 1636.5,1097.6 1638.0,1080.5 1639.5,1066.6 1641.0,1056.1 1642.5,1049.1 1644.0,1053.5 1645.5,1062.1 1647.0,1070.0 1648.5,1076.8 1650.0,1076.8 1651.5,1069.1 1653.0,1059.1 1654.5,1044.8 1656.0,1028.7 1657.5,1013.7 1659.0,1003.6 1660.5,997.3 1662.0,994.3 1663.5,985.9 1665.0,975.6 1666.5,963.2 1668.0,949.5 1669.5,939.8 1671.0,934.8 1672.5,931.1 1674.0,928.5 1675.5,925.1 1677.0,922.0 1678.5,910.7 1680.0,895.4 1681.5,890.1 1683.0,891.3 1684.5,892.9 1686.0,895.0 1687.5,898.6 1689.0,904.5 1690.5,915.5 1692.0,927.6 1693.5,938.6 1695.0,953.3 1696.5,967.3 1698.0,980.7 1699.5,991.2 1701.0,1002.4 1702.5,1013.1 1704.0,1022.5 1705.5,1032.8 1707.0,1043.5 1708.5,1046.1 1710.0,1046.4 1711.5,1045.6 1713.0,1046.7 1714.5,1046.1 1716.0,1046.1 1717.5,1047.0 1719.0,1047.9 1720.5,1049.2 1722.0,1053.6 1723.5,1058.9 1725.0,1065.1 1726.5,1070.2 1728.0,1074.0 1729.5,1076.1 1731.0,1076.4 1732.5,1079.6 1734.0,1081.2 1735.5,1085.3 1737.0,1090.8 1738.5,1095.0 1740.0,1098.9 1741.5,1101.1 1743.0,1103.6 1744.5,1104.1 1746.0,1098.6 1747.5,1089.6 1749.0,1084.6 1750.5,1083.7 1752.0,1084.1 1753.5,1083.5 1755.0,1084.2 1756.5,1084.0 1758.0,1083.9 1759.5,1083.6 1761.0,1084.9 1762.5,1087.6 1764.0,1089.5 1765.5,1092.7 1767.0,1095.8 1768.5,1099.9 1770.0,1103.6 1771.5,1106.1 1773.0,1109.3 1774.5,1110.9 1776.0,1112.1 1777.5,1113.5 1779.0,1112.9 1780.5,1114.0 1782.0,1111.4 1783.5,1110.8 1785.0,1108.1 1786.5,1103.6 1788.0,1096.5 1789.5,1086.4 1791.0,1080.1 1792.5,1073.0 1794.0,1065.8 1795.5,1059.5 1797.0,1055.0 1798.5,1051.6 1800.0,1048.9 1801.5,1047.3 1803.0,1046.4 1804.5,1045.5 1806.0,1044.7 1807.5,1045.7 1809.0,1044.8 1810.5,1045.5 1812.0,1043.6 1813.5,1042.1 1815.0,1041.6 1816.5,1038.3 1818.0,1035.0 1819.5,1033.0 1821.0,1026.9 1822.5,1023.0 1824.0,1016.3 1825.5,1011.9 1827.0,1006.6 1828.5,1000.2 1832.9,999.6" stroke-width="6.30"/>
</g>
<g fill="none" stroke="#007a00" stroke-linejoin="round" stroke-linecap="round">
<path d="M181.9,1640.9 184.4,1638.3 185.5,1641.4 186.6,1641.8 187.7,1638.3 188.8,1641.4 189.9,1638.2 191.0,1640.4 192.1,1637.8 193.2,1639.2 194.3,1637.2 195.4,1639.2 196.5,1638.7 197.6,1640.6 198.7,1639.9 199.8,1637.9 200.9,1639.1 202.0,1637.8 203.1,1638.4 204.2,1639.5 205.3,1639.4 206.4,1638.1 207.5,1637.2 208.6,1638.2 209.7,1640.3 210.8,1637.5 211.9,1635.9 213.0,1636.0 214.1,1636.2 215.2,1638.7 216.3,1636.9 217.4,1636.2 218.5,1637.0 219.6,1637.3 220.7,1636.1 221.8,1635.6 222.9,1637.0 224.0,1637.5 225.1,1634.3 226.2,1634.6 227.3,1639.0 228.4,1637.8 229.5,1638.3 230.6,1636.7 231.7,1637.7 232.8,1639.2 233.9,1641.6 235.0,1640.9 236.1,1639.3 237.2,1643.3 238.3,1643.6 239.4,1643.0 240.5,1640.9 241.6,1641.5 242.7,1641.9 243.8,1642.4 244.9,1644.0 246.0,1640.0 247.1,1640.6 248.2,1642.1 249.3,1642.2 250.4,1642.4 251.5,1640.8 252.6,1642.1 253.7,1641.7 254.8,1642.5 255.9,1643.6 257.0,1641.5 258.1,1641.0 259.2,1641.1 260.3,1640.8 261.4,1642.1 262.5,1639.7 263.6,1640.0 264.7,1640.9 265.8,1640.5 266.9,1641.3 268.0,1638.8 269.1,1639.9 270.2,1640.6 271.3,1640.6 272.4,1640.3 273.5,1642.0 274.6,1639.3 275.7,1638.9 276.8,1639.3 277.9,1639.4 279.0,1639.2 280.1,1641.3 281.2,1640.4 282.3,1639.9 283.4,1639.5 284.5,1642.3 285.6,1640.5 286.7,1641.6 287.8,1640.4 288.9,1643.3 290.0,1641.6 291.1,1638.6 292.2,1640.9 293.3,1639.3 294.4,1640.6 295.5,1642.2 296.6,1639.5 297.7,1641.0 298.8,1640.9 299.9,1642.3 301.0,1640.7 302.1,1642.2 303.2,1640.7 304.3,1642.2 305.4,1641.4 306.5,1642.4 307.6,1643.3 308.7,1643.0 309.8,1641.7 310.9,1642.8 312.0,1642.2 313.1,1642.8 314.2,1644.0 315.3,1640.9 316.4,1640.6 317.5,1642.8 318.6,1642.0 319.7,1644.0 320.8,1643.3 321.9,1642.8 323.0,1642.3 324.1,1642.1 325.2,1642.0 326.3,1642.6 327.4,1643.4 328.5,1642.3 329.6,1644.3 330.7,1643.5 331.8,1641.7 332.9,1640.7 334.0,1645.6 335.1,1643.0 336.2,1641.1 337.3,1642.5 338.4,1644.5 339.5,1645.6 340.6,1645.1 341.7,1645.9 342.8,1646.4 343.9,1646.1 345.0,1642.4 346.1,1643.0 347.2,1642.8 348.3,1643.9 349.4,1643.6 350.5,1644.2 351.6,1645.8 352.7,1642.7 353.8,1644.2 354.9,1641.9 356.0,1641.7 357.1,1644.5 358.2,1643.1 359.3,1642.4 360.4,1643.2 361.5,1639.2 362.6,1640.4 363.7,1641.4 364.8,1637.9 365.9,1638.7 367.0,1638.9 368.1,1638.6 369.2,1638.1 370.3,1638.0 371.4,1636.7 372.5,1636.3 373.6,1635.6 374.7,1634.0 375.8,1635.2 376.9,1634.1 378.0,1634.6 379.1,1633.0 380.2,1632.6 381.3,1631.9 382.4,1632.1 383.5,1630.5 384.6,1631.3 385.7,1629.6 386.8,1629.2 387.9,1627.6 389.0,1630.6 390.1,1628.0 391.2,1625.5 392.3,1625.8 393.4,1626.3 394.5,1624.7 395.6,1625.2 396.7,1623.9 397.8,1624.1 398.9,1619.1 400.0,1622.7 401.1,1621.3 402.2,1621.4 403.3,1618.7 404.4,1617.7 405.5,1616.3 406.6,1617.6 407.7,1616.9 408.8,1614.3 409.9,1615.0 411.0,1615.1 412.1,1613.1 413.2,1613.0 414.3,1612.4 415.4,1610.9 416.5,1608.8 417.6,1611.1 418.7,1609.3 419.8,1608.8 420.9,1607.1 422.0,1606.8 423.1,1604.6 424.2,1604.3 425.3,1604.2 426.4,1604.3 427.5,1602.2 428.6,1601.1 429.7,1602.6 430.8,1599.3 431.9,1601.0 433.0,1600.4 434.1,1600.0 435.2,1597.4 436.3,1595.5 437.4,1595.9 438.5,1593.3 439.6,1593.2 440.7,1594.2 441.8,1594.2 442.9,1591.5 444.0,1593.7 445.1,1591.4 446.2,1592.2 447.3,1591.5 448.4,1589.7 449.5,1588.5 450.6,1586.8 451.7,1588.9 452.8,1588.8 453.9,1586.6 455.0,1585.8 456.1,1583.9 457.2,1583.1 458.3,1583.8 459.4,1584.9 460.5,1582.6 461.6,1583.2 462.7,1581.9 463.8,1580.4 464.9,1578.8 466.0,1578.4 467.1,1576.9 468.2,1578.5 469.3,1577.4 470.4,1574.9 471.5,1574.4 472.6,1573.1 473.7,1574.2 474.8,1574.3 475.9,1572.1 477.0,1572.0 478.1,1572.3 479.2,1569.5 480.3,1570.9 481.4,1571.7 482.5,1571.2 483.6,1568.7 484.7,1568.2 485.8,1568.3 486.9,1567.6 488.0,1568.3 489.1,1566.9 490.2,1566.6 491.3,1565.8 492.4,1566.4 493.5,1563.1 494.6,1565.0 495.7,1563.6 496.8,1563.2 497.9,1561.5 499.0,1561.9 500.1,1560.7 501.2,1558.6 502.3,1561.1 503.4,1559.0 504.5,1560.0 505.6,1558.5 506.7,1559.4 507.8,1559.4 508.9,1557.4 510.0,1558.5 511.1,1557.1 512.2,1554.5 513.3,1557.9 514.4,1556.1 515.5,1555.8 516.6,1555.3 517.7,1555.6 518.8,1553.7 519.9,1554.3 521.0,1554.6 522.1,1553.2 523.2,1553.7 524.3,1553.5 525.4,1551.6 526.5,1552.9 527.6,1551.8 528.7,1552.4 529.8,1551.1 530.9,1550.0 532.0,1550.8 533.1,1549.7 534.2,1547.4 535.3,1549.1 536.4,1547.9 537.5,1550.2 538.6,1549.2 539.7,1549.9 540.8,1549.6 541.9,1548.7 543.0,1549.2 544.1,1546.8 545.2,1548.9 546.3,1548.0 547.4,1546.4 548.5,1548.6 549.6,1549.8 550.7,1549.0 551.8,1550.8 552.9,1550.9 554.0,1549.3 555.1,1549.4 556.2,1550.1 557.3,1550.2 558.4,1551.6 559.5,1552.0 560.6,1551.7" stroke-width="6.80"/>
<path d="M560.6,1551.7 561.7,1552.0 562.8,1551.9 563.9,1552.4 565.0,1552.6 566.1,1556.7 567.2,1556.6 568.3,1557.1 569.4,1556.0 570.5,1554.9 571.6,1555.1 572.7,1554.8 573.8,1554.2 574.9,1554.6 576.0,1553.3 577.1,1554.3 578.2,1554.6 579.3,1555.4 580.4,1555.2 581.5,1556.3 582.6,1556.1 583.7,1556.7 584.8,1557.0 585.9,1557.8 587.0,1559.0 588.1,1560.2 589.2,1559.7 590.3,1560.6 591.4,1561.5 592.5,1563.0 593.6,1562.6 594.7,1563.7 595.8,1564.6 596.9,1564.6 598.0,1566.6 599.1,1565.1 600.2,1565.4 601.3,1566.3 602.4,1567.4 603.5,1568.5 604.6,1569.5 605.7,1570.6 606.8,1570.5 607.9,1571.3 609.0,1573.1 610.1,1573.2 611.2,1574.1 612.3,1574.1 613.4,1574.0 614.5,1575.7 615.6,1576.3 616.7,1577.4 617.8,1577.8 618.9,1577.7 620.0,1580.3 621.1,1578.7 622.2,1578.8 623.3,1580.4 624.4,1581.0 625.5,1582.3 626.6,1581.7 627.7,1582.5 628.8,1583.2 629.9,1584.2 631.0,1582.8 632.1,1584.8 633.2,1584.0 634.3,1586.5 635.4,1585.7 636.5,1586.5 637.6,1588.1 638.7,1588.3 639.8,1588.8 640.9,1589.7 642.0,1589.0 643.1,1589.2 644.2,1591.3 645.3,1590.8 646.4,1592.0 647.5,1591.2 648.6,1592.7 649.7,1593.0 650.8,1594.3 651.9,1596.6 653.0,1594.2 654.1,1596.0 655.2,1597.5 656.3,1598.7 657.4,1598.3 658.5,1600.4 659.6,1600.8 660.7,1602.3 661.8,1601.8 662.9,1604.6 664.0,1602.4 665.1,1602.9 666.2,1600.7 667.3,1601.9 668.4,1602.5 669.5,1604.0 670.6,1602.0 671.7,1602.8 672.8,1601.7 673.9,1602.5 675.0,1601.3 676.1,1601.4 677.2,1602.0 678.3,1603.1 679.4,1603.7 680.5,1604.3 681.6,1605.1 682.7,1608.1 683.8,1608.0 684.9,1608.2 686.0,1609.0 687.1,1609.2 688.2,1610.6 689.3,1609.2 690.4,1608.5 691.5,1608.2 692.6,1607.1 693.7,1608.7 694.8,1606.4 695.9,1606.3 697.0,1604.7 698.1,1604.1 699.2,1602.4 700.3,1602.9 701.4,1602.9 702.5,1601.0 703.6,1598.6 704.7,1598.2 705.8,1595.7 706.9,1594.1 708.0,1594.5 709.1,1592.0 710.2,1593.1 711.3,1591.6 712.4,1588.7 713.5,1587.8 714.6,1586.1 715.7,1585.0 716.8,1581.4 717.9,1578.3 719.0,1573.3 720.1,1570.3 721.2,1562.2 722.3,1555.4 723.4,1553.0 724.5,1555.5 725.6,1559.8 726.7,1563.2 727.8,1573.0 728.9,1576.2 730.0,1579.7 731.1,1581.6 732.2,1584.0 733.3,1583.7 734.4,1585.9 735.5,1586.9 736.6,1586.9 737.7,1587.4 738.8,1588.3 739.9,1588.2 741.0,1588.7 742.1,1589.3 743.2,1590.6 744.3,1590.3 745.4,1590.7 746.5,1591.0 747.6,1591.9 748.7,1593.8 749.8,1592.9 750.9,1592.9 752.0,1592.9 753.1,1591.4 754.2,1588.9 755.3,1584.5 756.4,1579.7 757.5,1576.0 758.6,1575.8 759.7,1578.5 760.8,1582.4 761.9,1588.4 763.0,1598.3 764.1,1601.9 765.2,1602.6 766.3,1604.5 767.4,1605.7 768.5,1606.0 769.6,1607.4 770.7,1608.1 771.8,1606.9 772.9,1608.7 774.0,1609.2 775.1,1609.7 776.2,1609.3 777.3,1611.4 778.4,1611.3 779.5,1611.4 780.6,1611.5 781.7,1613.2 782.8,1613.4 783.9,1613.2 785.0,1615.3 786.1,1613.9 787.2,1615.3 788.3,1614.3 789.4,1614.8 790.5,1615.3 791.6,1614.9 792.7,1615.4 793.8,1615.3 794.9,1616.4 796.0,1616.1 797.1,1616.5 798.2,1616.4 799.3,1616.8 800.4,1617.1 801.5,1617.8 802.6,1617.8 803.7,1617.2 804.8,1618.0 805.9,1617.7 807.0,1618.0 808.1,1618.1 809.2,1617.8 810.3,1618.1 811.4,1619.5 812.5,1617.8 813.6,1618.8 814.7,1618.7 815.8,1618.3 816.9,1618.8 818.0,1618.2 819.1,1618.6 820.2,1619.4 821.3,1619.8 822.4,1619.3 823.5,1619.4 824.6,1618.9 825.7,1620.2 826.8,1619.4 827.9,1619.0 829.0,1619.5 830.1,1619.8 831.2,1619.4 832.3,1621.0 833.4,1619.5 834.5,1619.5 835.6,1621.0 836.7,1620.5 837.8,1619.9 838.9,1621.4 840.0,1621.4 841.1,1620.9 842.2,1621.0 843.3,1621.1 844.4,1621.5 845.5,1621.2 846.6,1620.9 847.7,1621.5 848.8,1621.3 849.9,1620.8 851.0,1621.7 852.1,1621.8 853.2,1622.7 854.3,1623.4 855.4,1623.2 856.5,1624.3 857.6,1623.1 858.7,1622.9 859.8,1622.3 860.9,1623.2 862.0,1623.0 863.1,1622.4 864.2,1623.2 865.3,1624.0 866.4,1623.5 867.5,1623.9 868.6,1624.0 869.7,1625.1 870.8,1623.8 871.9,1624.5 873.0,1624.1 874.1,1624.5 875.2,1625.9 876.3,1625.5 877.4,1625.4 878.5,1625.0 879.6,1625.0 880.7,1625.9 881.8,1624.6 882.9,1625.7 884.0,1625.7 885.1,1625.0 886.2,1625.6 887.3,1625.3 888.4,1625.8 889.5,1626.2 890.6,1626.0 891.7,1626.4 892.8,1626.4 893.9,1625.3 895.0,1626.9 896.1,1626.0 897.2,1625.3 898.3,1626.5 899.4,1626.4 900.5,1627.5 901.6,1627.1" stroke-width="6.65"/>
<path d="M900.5,1627.5 901.6,1627.1 902.7,1627.0 903.8,1626.7 904.9,1627.2 906.0,1626.7 907.1,1627.6 908.2,1627.0 909.3,1627.3 910.4,1627.4 911.5,1626.8 912.6,1628.2 913.7,1627.1 914.8,1627.1 915.9,1627.1 917.0,1627.2 918.1,1627.5 919.2,1627.7 920.3,1626.9 921.4,1627.3 922.5,1628.3 923.6,1627.8 924.7,1627.7 925.8,1627.7 926.9,1627.8 928.0,1628.1 929.1,1628.8 930.2,1628.9 931.3,1628.2 932.4,1628.0 933.5,1628.5 934.6,1628.1 935.7,1628.7 936.8,1628.8 937.9,1628.0 939.0,1627.4 940.1,1627.8 941.2,1628.5 942.3,1628.2 943.4,1628.9 944.5,1628.8 945.6,1628.7 946.7,1628.6 947.8,1628.5 948.9,1629.1 950.0,1628.2 951.1,1629.2 952.2,1630.1 953.3,1629.7 954.4,1629.1 955.5,1629.0 956.6,1629.3 957.7,1629.1 958.8,1629.9 959.9,1629.0 961.0,1629.2 962.1,1629.0 963.2,1629.8 964.3,1629.0 965.4,1630.0 966.5,1629.9 967.6,1629.2 968.7,1630.0 969.8,1629.8 970.9,1629.8 972.0,1629.5 973.1,1629.5 974.2,1629.6 975.3,1629.5 976.4,1630.3 977.5,1630.1 978.6,1631.5 979.7,1630.9 980.8,1631.4 981.9,1630.8 983.0,1632.1 984.1,1631.7 985.2,1632.7 986.3,1632.8 987.4,1633.3 988.5,1632.9 989.6,1633.2 990.7,1634.3 991.8,1634.8 992.9,1635.3 994.0,1636.8 995.1,1637.6 996.2,1638.3 997.3,1640.1 998.4,1638.8 999.5,1639.8 1000.6,1640.1 1001.7,1639.7 1002.8,1640.0 1003.9,1639.1 1005.0,1638.6 1006.1,1637.7 1007.2,1637.9 1008.3,1636.3 1009.4,1635.9 1010.5,1635.4 1011.6,1635.3 1012.7,1634.2 1013.8,1633.9 1014.9,1633.3 1016.0,1632.5 1017.1,1632.8 1018.2,1634.4 1019.3,1634.4 1020.4,1635.6 1021.5,1637.2 1022.6,1635.7 1023.7,1635.7 1024.8,1635.3 1025.9,1633.7 1027.0,1633.9 1028.1,1632.8 1029.2,1631.3 1030.3,1631.6 1031.4,1631.1 1032.5,1632.8 1033.6,1632.6 1034.7,1632.0 1035.8,1631.9 1036.9,1632.2 1038.0,1631.3 1039.1,1631.5 1040.2,1631.0 1041.3,1631.2 1042.4,1631.6 1043.5,1631.9 1044.6,1632.4 1045.7,1632.0 1046.8,1632.4 1047.9,1631.9 1049.0,1632.0 1050.1,1632.4 1051.2,1631.8 1052.3,1631.6 1053.4,1632.4 1054.5,1631.7 1055.6,1632.0 1056.7,1631.7 1057.8,1630.9 1058.9,1631.3 1060.0,1631.6 1061.1,1632.0 1062.2,1632.1 1063.3,1631.7 1064.4,1632.6 1065.5,1632.0 1066.6,1631.1 1067.7,1632.0 1068.8,1631.4 1069.9,1631.5 1071.0,1631.7 1072.1,1631.8 1073.2,1632.0 1074.3,1632.2 1075.4,1632.4 1076.5,1631.7 1077.6,1632.0 1078.7,1632.3 1079.8,1631.3 1080.9,1632.0 1082.0,1631.9 1083.1,1631.5 1084.2,1632.2 1085.3,1632.0 1086.4,1632.3 1087.5,1632.6 1088.6,1631.9 1089.7,1631.4 1090.8,1631.6 1091.9,1631.4 1093.0,1632.1 1094.1,1631.7 1095.2,1631.8 1096.3,1631.8 1097.4,1632.5 1098.5,1632.2 1099.6,1632.3 1100.7,1632.1 1101.8,1631.8 1102.9,1631.6 1104.0,1632.3 1105.1,1631.6 1106.2,1632.0 1107.3,1631.4 1108.4,1631.7 1109.5,1631.7 1110.6,1631.7 1111.7,1632.3 1112.8,1632.5 1113.9,1632.1 1115.0,1632.9 1116.1,1631.9 1117.2,1631.2 1118.3,1632.1 1119.4,1631.5 1120.5,1631.9 1121.6,1632.2 1122.7,1632.6 1123.8,1632.4 1124.9,1632.1 1126.0,1632.9 1127.1,1632.4 1128.2,1632.7 1129.3,1632.7 1130.4,1632.5 1131.5,1632.5 1132.6,1633.1 1133.7,1632.7 1134.8,1632.5 1135.9,1632.6 1137.0,1632.3 1138.1,1632.4 1139.2,1632.7 1140.3,1633.1 1141.4,1633.0 1142.5,1633.3 1143.6,1633.3 1144.7,1633.2 1145.8,1632.8 1146.9,1632.7 1148.0,1632.9 1149.1,1632.8 1150.2,1633.6 1151.3,1633.7 1152.4,1632.9 1153.5,1633.4 1154.6,1633.5 1155.7,1633.2 1156.8,1633.5 1157.9,1633.4 1159.0,1633.7 1160.1,1634.0 1161.2,1634.2 1162.3,1633.8 1163.4,1634.4 1164.5,1633.8 1165.6,1634.1 1166.7,1634.4 1167.8,1634.4 1168.9,1634.9 1170.0,1634.5 1171.1,1634.5 1172.2,1635.3 1173.3,1634.5 1174.4,1634.5 1175.5,1634.1 1176.6,1635.1 1177.7,1635.8 1178.8,1635.0 1179.9,1635.0 1181.0,1635.5 1182.1,1635.7 1183.2,1636.0 1184.3,1635.7 1185.4,1635.4 1186.5,1635.2 1187.6,1635.8 1188.7,1635.8 1189.8,1635.9 1190.9,1635.6 1192.0,1635.8 1193.1,1636.7 1194.2,1636.1 1195.3,1636.5 1196.4,1636.1 1197.5,1635.3 1198.6,1636.2 1199.7,1635.7 1200.8,1636.8 1201.9,1636.1 1203.0,1636.1 1204.1,1636.3 1205.2,1636.5 1206.3,1636.5 1207.4,1636.6 1208.5,1637.1 1209.6,1636.7 1210.7,1637.0 1211.8,1636.9 1212.9,1637.2 1214.0,1636.8 1215.1,1637.7 1216.2,1636.9 1217.3,1636.7 1218.4,1636.8 1219.5,1636.9 1220.6,1637.2 1221.7,1637.9 1222.8,1636.9 1223.9,1637.6 1225.0,1637.1 1226.1,1638.0 1227.2,1637.8 1228.3,1638.3 1229.4,1637.7 1230.5,1638.1 1231.6,1638.2 1232.7,1637.7 1233.8,1637.9 1234.9,1637.8 1236.0,1637.8 1237.1,1638.0 1238.2,1637.9 1239.3,1638.8 1240.4,1638.5 1241.5,1638.2 1242.6,1638.5 1243.7,1638.7 1244.8,1638.5 1245.9,1639.1 1247.0,1638.8 1248.1,1639.1 1249.2,1639.9 1250.3,1639.0 1251.4,1639.4 1252.5,1639.5 1253.6,1638.9 1254.7,1639.1 1255.8,1639.6 1256.9,1640.0 1258.0,1639.4 1259.1,1640.0 1260.2,1640.0 1261.3,1640.1 1262.4,1639.9 1263.5,1640.5 1264.6,1639.7 1265.7,1640.8 1266.8,1640.7 1267.9,1641.0 1269.0,1641.0 1270.1,1640.9 1271.2,1641.0 1272.3,1641.9 1273.4,1642.1 1274.5,1642.0 1275.6,1641.6 1276.7,1642.2 1277.8,1642.8 1278.9,1641.8 1280.0,1641.7 1281.1,1642.0 1282.2,1642.8 1283.3,1642.0 1284.4,1642.2 1285.5,1642.3 1286.6,1642.1 1287.7,1642.4 1288.8,1641.9 1289.9,1641.7 1290.0,1642.3 1291.5,1642.3 1293.0,1643.3" stroke-width="6.50"/>
<path d="M1293.0,1643.3 1294.5,1643.0 1296.0,1643.3 1297.5,1642.3 1299.0,1642.3 1300.5,1640.1 1302.0,1636.1 1303.5,1631.4 1305.0,1629.8 1306.5,1627.0 1308.0,1625.7 1309.5,1624.4 1311.0,1624.2 1312.5,1626.6 1314.0,1628.4 1315.5,1632.0 1317.0,1632.4 1318.5,1632.4 1320.0,1632.7 1321.5,1634.9 1323.0,1635.1 1324.5,1634.3 1326.0,1636.0 1327.5,1634.4 1329.0,1634.9 1330.5,1631.1 1332.0,1627.8 1333.5,1623.0 1335.0,1619.8 1336.5,1614.8 1338.0,1609.2 1339.5,1603.9 1341.0,1598.4 1342.5,1592.9 1344.0,1586.4 1345.5,1582.0 1347.0,1576.8 1348.5,1569.5 1350.0,1563.2 1351.5,1558.4 1353.0,1555.7 1354.5,1554.8 1356.0,1552.5 1357.5,1550.0 1359.0,1550.5 1360.5,1549.4 1362.0,1550.3 1363.5,1550.9 1365.0,1552.0 1366.5,1554.6 1368.0,1556.7 1369.5,1559.4 1371.0,1563.1 1372.5,1567.8 1374.0,1574.8 1375.5,1580.3 1377.0,1585.8 1378.5,1589.6 1380.0,1592.6 1381.5,1595.9 1383.0,1598.8 1384.5,1599.6 1386.0,1600.6 1387.5,1601.2 1389.0,1603.0 1390.5,1602.6 1392.0,1603.9 1393.5,1604.6 1395.0,1602.9 1396.5,1602.8 1398.0,1599.5 1399.5,1598.1 1401.0,1595.3 1402.5,1590.5 1404.0,1586.3 1405.5,1583.4 1407.0,1581.2 1408.5,1579.9 1410.0,1580.4 1411.5,1580.1 1413.0,1579.1 1414.5,1580.1 1416.0,1580.0 1417.5,1581.0 1419.0,1583.6 1420.5,1585.3 1422.0,1587.6 1423.5,1589.1 1425.0,1590.6 1426.5,1594.1 1428.0,1596.5 1429.5,1600.2 1431.0,1603.5 1432.5,1606.8 1434.0,1610.9 1435.5,1614.0 1437.0,1616.9 1438.5,1617.3 1440.0,1616.1 1441.5,1614.6 1443.0,1610.9 1444.5,1603.5 1446.0,1593.9 1447.5,1589.8 1449.0,1585.6 1450.5,1584.3 1452.0,1582.2 1453.5,1581.9 1455.0,1581.8 1456.5,1581.6 1458.0,1581.6 1459.5,1581.3 1461.0,1581.8 1462.5,1581.0 1464.0,1581.5 1465.5,1582.7 1467.0,1581.1 1468.5,1581.9 1470.0,1580.6 1471.5,1580.5 1473.0,1579.7 1474.5,1578.0 1476.0,1576.9 1477.5,1576.4 1479.0,1576.6 1480.5,1575.9 1482.0,1577.1 1483.5,1578.9 1485.0,1578.7 1486.5,1578.9 1488.0,1579.8 1489.5,1579.7 1491.0,1578.8 1492.5,1579.0 1494.0,1576.3 1495.5,1575.8 1497.0,1575.6 1498.5,1573.6 1500.0,1573.9 1501.5,1574.6 1503.0,1573.3 1504.5,1571.3 1506.0,1572.6 1507.5,1571.7 1509.0,1570.5 1510.5,1569.6 1512.0,1570.0 1513.5,1570.2 1515.0,1569.4 1516.5,1569.1 1518.0,1570.7 1519.5,1571.8 1521.0,1572.0 1522.5,1573.5 1524.0,1575.3 1525.5,1577.5 1527.0,1577.4 1528.5,1578.7 1530.0,1579.5 1531.5,1579.5 1533.0,1580.2 1534.5,1581.0 1536.0,1582.1 1537.5,1582.5 1539.0,1584.8 1540.5,1585.1 1542.0,1586.7 1543.5,1586.8 1545.0,1587.9 1546.5,1590.7 1548.0,1597.1 1549.5,1602.8 1551.0,1602.0 1552.5,1595.8 1554.0,1589.1 1555.5,1584.3 1557.0,1582.9 1558.5,1581.5 1560.0,1580.5 1561.5,1579.7 1563.0,1580.6 1564.5,1582.0 1566.0,1584.1 1567.5,1586.8 1569.0,1587.9 1570.5,1589.2 1572.0,1590.6 1573.5,1591.3 1575.0,1591.9 1576.5,1593.1 1578.0,1593.4 1579.5,1595.5 1581.0,1598.0 1582.5,1599.1 1584.0,1600.9 1585.5,1603.2 1587.0,1603.4 1588.5,1603.9 1590.0,1601.6 1591.5,1599.2 1593.0,1595.6 1594.5,1591.2 1596.0,1583.8 1597.5,1567.4 1599.0,1549.7 1600.5,1536.1 1602.0,1523.4 1603.5,1514.4 1605.0,1512.7 1606.5,1512.7 1608.0,1512.3 1609.5,1517.8 1611.0,1525.2 1612.5,1529.6 1614.0,1531.9 1615.5,1533.2 1617.0,1534.2 1618.5,1533.6 1620.0,1532.4 1621.5,1531.1 1623.0,1530.3 1624.5,1527.8 1626.0,1525.6 1627.5,1524.1 1629.0,1523.9 1630.5,1521.9 1632.0,1520.7 1633.5,1518.7 1635.0,1515.6 1636.5,1506.9 1638.0,1490.6 1639.5,1476.9 1641.0,1465.9 1642.5,1460.3 1644.0,1463.7 1645.5,1471.9 1647.0,1480.5 1648.5,1488.3 1650.0,1487.7 1651.5,1478.6 1653.0,1469.1 1654.5,1454.3 1656.0,1439.0 1657.5,1424.3 1659.0,1414.8 1660.5,1409.7 1662.0,1404.9 1663.5,1397.0 1665.0,1386.0 1666.5,1372.9 1668.0,1360.2 1669.5,1349.5 1671.0,1345.4 1672.5,1341.1 1674.0,1337.4 1675.5,1335.6 1677.0,1331.0 1678.5,1319.5 1680.0,1306.8 1681.5,1301.6 1683.0,1303.0 1684.5,1303.7 1686.0,1305.8 1687.5,1308.8 1689.0,1315.7 1690.5,1326.0 1692.0,1338.4 1693.5,1349.4 1695.0,1363.2 1696.5,1376.9 1698.0,1389.7 1699.5,1401.1 1701.0,1412.0 1702.5,1423.1 1704.0,1433.4 1705.5,1444.9 1707.0,1453.4 1708.5,1455.9 1710.0,1457.5 1711.5,1456.7 1713.0,1457.3 1714.5,1456.9 1716.0,1456.6 1717.5,1456.7 1719.0,1457.3 1720.5,1460.3 1722.0,1462.9 1723.5,1468.2 1725.0,1475.3 1726.5,1481.4 1728.0,1484.7 1729.5,1486.6 1731.0,1487.3 1732.5,1489.4 1734.0,1492.5 1735.5,1496.4 1737.0,1500.4 1738.5,1505.6 1740.0,1508.5 1741.5,1510.8 1743.0,1513.7 1744.5,1514.1 1746.0,1509.0 1747.5,1500.0 1749.0,1495.7 1750.5,1494.7 1752.0,1494.2 1753.5,1494.0 1755.0,1493.9 1756.5,1493.3 1758.0,1493.8 1759.5,1494.0 1761.0,1493.5 1762.5,1497.2 1764.0,1500.0 1765.5,1501.8 1767.0,1508.5 1768.5,1510.8 1770.0,1514.1 1771.5,1516.1 1773.0,1519.2 1774.5,1521.1 1776.0,1523.0 1777.5,1523.6 1779.0,1523.6 1780.5,1523.2 1782.0,1523.0 1783.5,1520.9 1785.0,1519.4 1786.5,1515.0 1788.0,1505.3 1789.5,1497.2 1791.0,1490.9 1792.5,1482.9 1794.0,1476.8 1795.5,1469.9 1797.0,1466.2 1798.5,1462.8 1800.0,1459.9 1801.5,1456.6 1803.0,1457.2 1804.5,1456.0 1806.0,1455.3 1807.5,1455.8 1809.0,1455.1 1810.5,1454.5 1812.0,1454.4 1813.5,1453.6 1815.0,1451.0 1816.5,1449.1 1818.0,1446.7 1819.5,1442.7 1821.0,1438.2 1822.5,1432.5 1824.0,1427.2 1825.5,1422.3 1827.0,1415.8 1828.5,1411.9 1832.9,1411.2" stroke-width="6.30"/>
</g>
</g>
<g stroke="#000" stroke-width="3.5" stroke-dasharray="3.5 5.5" fill="none">
<line x1="540.3" y1="268.5" x2="540.3" y2="1676"/>
<line x1="720.6" y1="231.5" x2="720.6" y2="1676"/>
<line x1="759.8" y1="332.0" x2="759.8" y2="1682"/>
<line x1="1309.9" y1="354" x2="1309.9" y2="1676"/>
<line x1="1359.2" y1="286.0" x2="1359.2" y2="1676"/>
<line x1="1407.0" y1="213.6" x2="1407.0" y2="1676"/>
<line x1="1503.9" y1="315" x2="1503.9" y2="1682"/>
</g>
<line x1="1401.7" y1="130.4" x2="1577.6" y2="168.9" stroke="#000" stroke-width="3.4" stroke-dasharray="3.4 5.62"/>
<g stroke="#000" stroke-width="3.15" fill="none">
<rect x="183.9" y="32.4" width="1647.0" height="1647.6"/>
<line x1="183.9" y1="444.3" x2="1830.9" y2="444.3"/>
<line x1="183.9" y1="856.4" x2="1830.9" y2="856.4"/>
<line x1="183.9" y1="1267.2" x2="1830.9" y2="1267.2"/>
</g>
<rect x="1577" y="131.8" width="179.6" height="1506.6" fill="rgba(128,128,128,0.30)"/>
<rect x="1578.6" y="133.4" width="176.4" height="1503.4" fill="none" stroke="rgba(90,90,125,0.14)" stroke-width="3.2"/>
<g stroke="#000" stroke-width="3.6" fill="#fff">
<rect x="210.0" y="282.9" width="126.2" height="101.5"/>
<rect x="216.4" y="685.0" width="126.6" height="103.2"/>
<rect x="208.9" y="1078.4" width="219.9" height="102.1"/>
<rect x="200.4" y="1480.9" width="237.9" height="102.1"/>
</g>
<g font-family="'Liberation Serif', 'DejaVu Serif', serif" font-weight="bold" font-size="100" fill="#000" stroke="#fff" stroke-width="1.5" stroke-linejoin="round" style="font-kerning:none">
<text transform="translate(0,115.00) scale(1,0.7405)"><tspan x="670.86" textLength="451.73" lengthAdjust="spacingAndGlyphs">Carbohydrate</tspan> <tspan x="1144.20" textLength="370.36" lengthAdjust="spacingAndGlyphs">Fingerprint</tspan> <tspan x="1537.06" textLength="210.10" lengthAdjust="spacingAndGlyphs">region</tspan></text>
<text transform="translate(0,255.70) scale(1,0.7588)"><tspan x="474.79" textLength="121.43" lengthAdjust="spacingAndGlyphs">OH</tspan></text>
<text transform="translate(0,241.50) scale(1,0.7573)"><tspan x="631.90" textLength="196.62" lengthAdjust="spacingAndGlyphs">CH(a)</tspan></text>
<text transform="translate(0,330.00) scale(1,0.7542)"><tspan x="734.23" textLength="191.98" lengthAdjust="spacingAndGlyphs">CH(s)</tspan></text>
<text transform="translate(0,211.80) scale(1,0.7634)"><tspan x="938.01" textLength="418.13" lengthAdjust="spacingAndGlyphs">COO/Amide</tspan> <tspan x="1374.85" textLength="56.26" lengthAdjust="spacingAndGlyphs">II</tspan></text>
<text transform="translate(0,283.20) scale(1,0.7634)"><tspan x="940.38" textLength="58.89" lengthAdjust="spacingAndGlyphs">H</tspan><tspan x="998.78" textLength="26.14" lengthAdjust="spacingAndGlyphs" font-size="62.0" dy="20.96">2</tspan><tspan x="1021.84" textLength="307.74" lengthAdjust="spacingAndGlyphs" dy="-20.96">O/Amide</tspan> <tspan x="1349.01" textLength="26.19" lengthAdjust="spacingAndGlyphs">I</tspan></text>
<text transform="translate(0,355.60) scale(1,0.7405)"><tspan x="1175.59" textLength="148.61" lengthAdjust="spacingAndGlyphs">C=O</tspan></text>
<text transform="translate(0,244.10) scale(1,0.7069)"><tspan x="1449.45" textLength="121.69" lengthAdjust="spacingAndGlyphs">CH/</tspan></text>
<text transform="translate(0,323.00) scale(1,0.6992)"><tspan x="1449.44" textLength="102.92" lengthAdjust="spacingAndGlyphs">CO</tspan></text>
<text transform="translate(0,368.85) scale(1,0.9502)" stroke="none" filter="url(#sh)"><tspan x="248.96" textLength="53.39" lengthAdjust="spacingAndGlyphs">S</tspan></text>
<text transform="translate(0,765.17) scale(1,0.9262)" stroke="none" filter="url(#sh)"><tspan x="249.53" textLength="73.10" lengthAdjust="spacingAndGlyphs">D</tspan></text>
<text transform="translate(0,1158.30) scale(1,0.9511)" stroke="none" filter="url(#sh)"><tspan x="212.93" textLength="206.06" lengthAdjust="spacingAndGlyphs">S_int</tspan></text>
<text transform="translate(0,1560.60) scale(1,0.9466)" stroke="none" filter="url(#sh)"><tspan x="202.73" textLength="226.24" lengthAdjust="spacingAndGlyphs">S_bio</tspan></text>
<text transform="translate(0,1755.20) scale(1,0.8214)"><tspan x="99.03" textLength="170.46" lengthAdjust="spacingAndGlyphs">4000</tspan></text>
<text transform="translate(0,1755.20) scale(1,0.8214)"><tspan x="346.16" textLength="172.78" lengthAdjust="spacingAndGlyphs">3500</tspan></text>
<text transform="translate(0,1755.20) scale(1,0.8214)"><tspan x="595.56" textLength="172.68" lengthAdjust="spacingAndGlyphs">3000</tspan></text>
<text transform="translate(0,1755.20) scale(1,0.8214)"><tspan x="844.52" textLength="173.12" lengthAdjust="spacingAndGlyphs">2500</tspan></text>
<text transform="translate(0,1755.20) scale(1,0.8214)"><tspan x="1094.02" textLength="173.13" lengthAdjust="spacingAndGlyphs">2000</tspan></text>
<text transform="translate(0,1755.20) scale(1,0.8214)"><tspan x="1342.53" textLength="174.13" lengthAdjust="spacingAndGlyphs">1500</tspan></text>
<text transform="translate(0,1755.20) scale(1,0.8214)"><tspan x="1592.03" textLength="174.13" lengthAdjust="spacingAndGlyphs">1000</tspan></text>
<text transform="translate(0,1868.50) scale(1,0.9740)"><tspan x="528.50" textLength="618.17" lengthAdjust="spacingAndGlyphs">Wavenumbers</tspan> <tspan x="1178.13" textLength="33.49" lengthAdjust="spacingAndGlyphs" font-size="95.0" dy="-7.70">(</tspan><tspan x="1211.90" textLength="138.74" lengthAdjust="spacingAndGlyphs" dy="7.70">cm</tspan><tspan x="1345.03" textLength="72.73" lengthAdjust="spacingAndGlyphs" font-size="66.0" dy="-37.68">−1</tspan><tspan x="1419.53" textLength="33.49" lengthAdjust="spacingAndGlyphs" font-size="95.0" dy="29.98">)</tspan></text>
<text transform="translate(101.80,0) rotate(-90) scale(1,1.0931)"><tspan x="-1253.40" textLength="560.20" lengthAdjust="spacingAndGlyphs">Absorbance</tspan> <tspan x="-665.64" textLength="32.46" lengthAdjust="spacingAndGlyphs" font-size="92.0" dy="-8.23">(</tspan><tspan x="-633.84" textLength="77.11" lengthAdjust="spacingAndGlyphs" dy="8.23">a.</tspan> <tspan x="-528.83" textLength="87.57" lengthAdjust="spacingAndGlyphs">u.</tspan><tspan x="-441.06" textLength="32.33" lengthAdjust="spacingAndGlyphs" font-size="92.0" dy="-8.23">)</tspan></text>
</g>
</svg>
</body></html>
